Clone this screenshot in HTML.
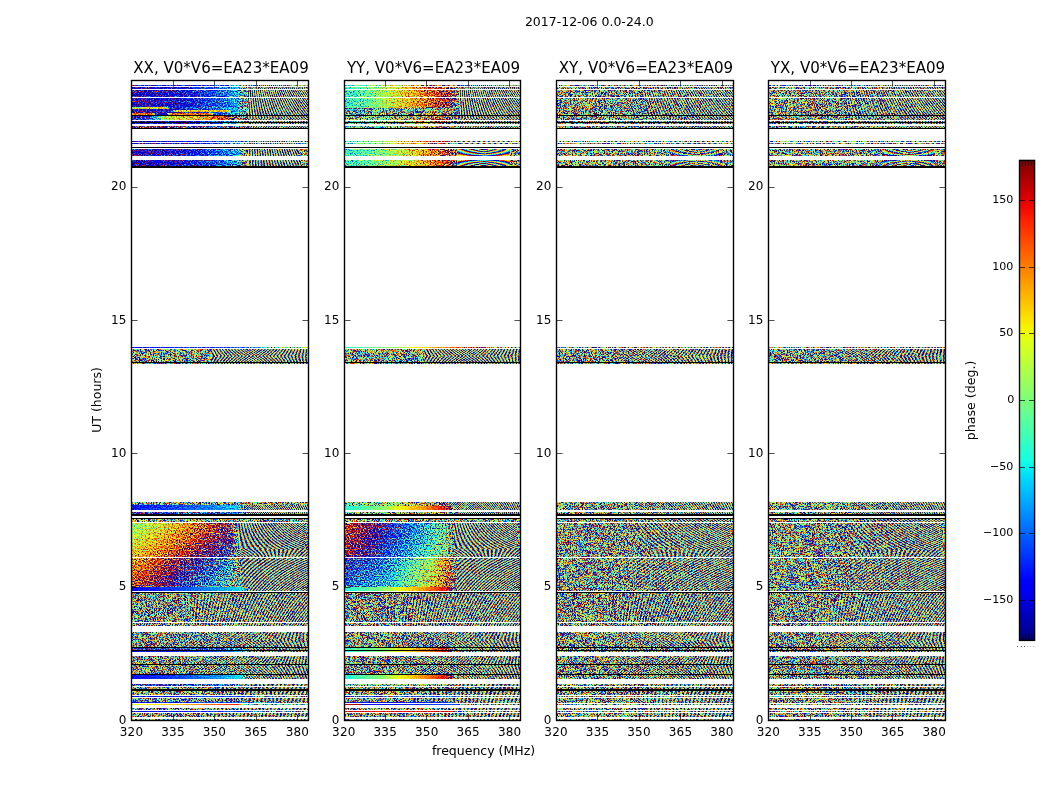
<!DOCTYPE html>
<html><head><meta charset="utf-8"><title>2017-12-06 0.0-24.0</title>
<style>html,body{margin:0;padding:0;background:#fff}svg{display:block}.s{mix-blend-mode:screen}</style></head>
<body>
<svg width="1050" height="800" viewBox="0 0 1050 800">
<defs><linearGradient id="g0" x1="0" y1="0" x2="1" y2="0"><stop offset="0" stop-color="#6dff00"/><stop offset="1" stop-color="#6dff00"/></linearGradient><linearGradient id="g1" x1="0" y1="0" x2="1" y2="0"><stop offset="0" stop-color="#2d3800"/><stop offset="0.455" stop-color="#343800"/><stop offset="0.758" stop-color="#423d00"/><stop offset="0.909" stop-color="#504700"/><stop offset="1" stop-color="#59ff00"/></linearGradient><linearGradient id="g2" x1="0" y1="0" x2="1" y2="0"><stop offset="0" stop-color="#7c3800"/><stop offset="0.303" stop-color="#853800"/><stop offset="0.333" stop-color="#333800"/><stop offset="0.909" stop-color="#504700"/><stop offset="1" stop-color="#59ff00"/></linearGradient><linearGradient id="g3" x1="0" y1="0" x2="1" y2="0"><stop offset="0" stop-color="#2d3800"/><stop offset="0.348" stop-color="#343800"/><stop offset="0.379" stop-color="#853800"/><stop offset="0.833" stop-color="#8d3800"/><stop offset="0.864" stop-color="#4a3800"/><stop offset="0.909" stop-color="#504700"/><stop offset="1" stop-color="#59ff00"/></linearGradient><linearGradient id="g4" x1="0" y1="0" x2="1" y2="0"><stop offset="0" stop-color="#933800"/><stop offset="0.182" stop-color="#9c3800"/><stop offset="0.212" stop-color="#313800"/><stop offset="0.303" stop-color="#333800"/><stop offset="0.333" stop-color="#933800"/><stop offset="0.682" stop-color="#9c3800"/><stop offset="0.712" stop-color="#393800"/><stop offset="0.909" stop-color="#504700"/><stop offset="1" stop-color="#59ff00"/></linearGradient><linearGradient id="g5" x1="0" y1="0" x2="1" y2="0"><stop offset="0" stop-color="#304c00"/><stop offset="0.154" stop-color="#3a4c00"/><stop offset="0.215" stop-color="#574c00"/><stop offset="0.308" stop-color="#7c4700"/><stop offset="0.615" stop-color="#8d4700"/><stop offset="0.769" stop-color="#a04c00"/><stop offset="0.877" stop-color="#aa4c00"/><stop offset="1" stop-color="#6dff00"/></linearGradient><linearGradient id="g6" x1="0" y1="0" x2="1" y2="0"><stop offset="0" stop-color="#247300"/><stop offset="0.606" stop-color="#2c7300"/><stop offset="0.909" stop-color="#429900"/><stop offset="1" stop-color="#5fff00"/></linearGradient><linearGradient id="g7" x1="0" y1="0" x2="1" y2="0"><stop offset="0" stop-color="#361f00"/><stop offset="0.6" stop-color="#422600"/><stop offset="0.8" stop-color="#5f8000"/><stop offset="1" stop-color="#759900"/></linearGradient><linearGradient id="g8" x1="0" y1="0" x2="1" y2="0"><stop offset="0" stop-color="#50e600"/><stop offset="1" stop-color="#5fff00"/></linearGradient><linearGradient id="g9" x1="0" y1="0" x2="1" y2="0"><stop offset="0" stop-color="#371a00"/><stop offset="0.469" stop-color="#421a00"/><stop offset="0.781" stop-color="#4c1a00"/><stop offset="0.938" stop-color="#552600"/><stop offset="1" stop-color="#5fff00"/></linearGradient><linearGradient id="g10" x1="0" y1="0" x2="1" y2="0"><stop offset="0" stop-color="#2c4c00"/><stop offset="0.909" stop-color="#425900"/><stop offset="1" stop-color="#5fff00"/></linearGradient><linearGradient id="g11" x1="0" y1="0" x2="1" y2="0"><stop offset="0" stop-color="#66cc00"/><stop offset="1" stop-color="#66ff00"/></linearGradient><linearGradient id="g12" x1="0" y1="0" x2="1" y2="0"><stop offset="0" stop-color="#704000"/><stop offset="0.25" stop-color="#7e4500"/><stop offset="0.5" stop-color="#904c00"/><stop offset="0.75" stop-color="#a35900"/><stop offset="0.933" stop-color="#b36600"/><stop offset="1" stop-color="#b9ff00"/></linearGradient><linearGradient id="g13" x1="0" y1="0" x2="1" y2="0"><stop offset="0" stop-color="#754000"/><stop offset="0.25" stop-color="#834500"/><stop offset="0.5" stop-color="#954c00"/><stop offset="0.75" stop-color="#a85900"/><stop offset="0.933" stop-color="#b86600"/><stop offset="1" stop-color="#bdff00"/></linearGradient><linearGradient id="g14" x1="0" y1="0" x2="1" y2="0"><stop offset="0" stop-color="#794000"/><stop offset="0.25" stop-color="#884500"/><stop offset="0.5" stop-color="#994c00"/><stop offset="0.75" stop-color="#ac5900"/><stop offset="0.933" stop-color="#bc6600"/><stop offset="1" stop-color="#c2ff00"/></linearGradient><linearGradient id="g15" x1="0" y1="0" x2="1" y2="0"><stop offset="0" stop-color="#7e4000"/><stop offset="0.25" stop-color="#8d4500"/><stop offset="0.5" stop-color="#9e4c00"/><stop offset="0.75" stop-color="#b15900"/><stop offset="0.933" stop-color="#c16600"/><stop offset="1" stop-color="#c7ff00"/></linearGradient><linearGradient id="g16" x1="0" y1="0" x2="1" y2="0"><stop offset="0" stop-color="#834000"/><stop offset="0.25" stop-color="#924500"/><stop offset="0.5" stop-color="#a34c00"/><stop offset="0.75" stop-color="#b65900"/><stop offset="0.933" stop-color="#c66600"/><stop offset="1" stop-color="#ccff00"/></linearGradient><linearGradient id="g17" x1="0" y1="0" x2="1" y2="0"><stop offset="0" stop-color="#884000"/><stop offset="0.25" stop-color="#974500"/><stop offset="0.5" stop-color="#a84c00"/><stop offset="0.75" stop-color="#bb5900"/><stop offset="0.933" stop-color="#cb6600"/><stop offset="1" stop-color="#d1ff00"/></linearGradient><linearGradient id="g18" x1="0" y1="0" x2="1" y2="0"><stop offset="0" stop-color="#904c00"/><stop offset="0.323" stop-color="#a75400"/><stop offset="0.484" stop-color="#b55c00"/><stop offset="0.726" stop-color="#cd6600"/><stop offset="0.903" stop-color="#e07300"/><stop offset="1" stop-color="#e4ff00"/></linearGradient><linearGradient id="g19" x1="0" y1="0" x2="1" y2="0"><stop offset="0" stop-color="#944c00"/><stop offset="0.323" stop-color="#ab5400"/><stop offset="0.484" stop-color="#ba5c00"/><stop offset="0.726" stop-color="#d16600"/><stop offset="0.903" stop-color="#e47300"/><stop offset="1" stop-color="#e8ff00"/></linearGradient><linearGradient id="g20" x1="0" y1="0" x2="1" y2="0"><stop offset="0" stop-color="#984c00"/><stop offset="0.323" stop-color="#b05400"/><stop offset="0.484" stop-color="#be5c00"/><stop offset="0.726" stop-color="#d56600"/><stop offset="0.903" stop-color="#e87300"/><stop offset="1" stop-color="#edff00"/></linearGradient><linearGradient id="g21" x1="0" y1="0" x2="1" y2="0"><stop offset="0" stop-color="#9d4c00"/><stop offset="0.323" stop-color="#b45400"/><stop offset="0.484" stop-color="#c35c00"/><stop offset="0.726" stop-color="#da6600"/><stop offset="0.903" stop-color="#ed7300"/><stop offset="1" stop-color="#f1ff00"/></linearGradient><linearGradient id="g22" x1="0" y1="0" x2="1" y2="0"><stop offset="0" stop-color="#a14c00"/><stop offset="0.323" stop-color="#b85400"/><stop offset="0.484" stop-color="#c75c00"/><stop offset="0.726" stop-color="#de6600"/><stop offset="0.903" stop-color="#f17300"/><stop offset="1" stop-color="#f6ff00"/></linearGradient><linearGradient id="g23" x1="0" y1="0" x2="1" y2="0"><stop offset="0" stop-color="#360f00"/><stop offset="0.462" stop-color="#420f00"/><stop offset="0.769" stop-color="#4d1400"/><stop offset="0.954" stop-color="#571a00"/><stop offset="1" stop-color="#5fff00"/></linearGradient><linearGradient id="g24" x1="0" y1="0" x2="1" y2="0"><stop offset="0" stop-color="#334c00"/><stop offset="0.758" stop-color="#424c00"/><stop offset="0.939" stop-color="#506600"/><stop offset="1" stop-color="#5fff00"/></linearGradient><linearGradient id="g25" x1="0" y1="0" x2="1" y2="0"><stop offset="0" stop-color="#331a00"/><stop offset="0.758" stop-color="#421a00"/><stop offset="0.939" stop-color="#501a00"/><stop offset="1" stop-color="#5fff00"/></linearGradient><linearGradient id="g26" x1="0" y1="0" x2="1" y2="0"><stop offset="0" stop-color="#365400"/><stop offset="0.909" stop-color="#446600"/><stop offset="1" stop-color="#5fff00"/></linearGradient><linearGradient id="g27" x1="0" y1="0" x2="1" y2="0"><stop offset="0" stop-color="#331a00"/><stop offset="0.6" stop-color="#421a00"/><stop offset="1" stop-color="#5fcc00"/></linearGradient><linearGradient id="g28" x1="0" y1="0" x2="1" y2="0"><stop offset="0" stop-color="#7f0500"/><stop offset="0.3" stop-color="#8d0500"/><stop offset="0.6" stop-color="#a50500"/><stop offset="0.64" stop-color="#5f8000"/><stop offset="1" stop-color="#5fcc00"/></linearGradient><linearGradient id="g29" x1="0" y1="0" x2="1" y2="0"><stop offset="0" stop-color="#5d3d00"/><stop offset="0.185" stop-color="#653d00"/><stop offset="0.338" stop-color="#763d00"/><stop offset="0.492" stop-color="#854200"/><stop offset="0.646" stop-color="#934700"/><stop offset="0.8" stop-color="#a25200"/><stop offset="0.923" stop-color="#ac6100"/><stop offset="1" stop-color="#b6ff00"/></linearGradient><linearGradient id="g30" x1="0" y1="0" x2="1" y2="0"><stop offset="0" stop-color="#508000"/><stop offset="0.308" stop-color="#5f9900"/><stop offset="0.462" stop-color="#50b200"/><stop offset="0.769" stop-color="#7ccc00"/><stop offset="0.923" stop-color="#a8cc00"/><stop offset="1" stop-color="#b6ff00"/></linearGradient><linearGradient id="g31" x1="0" y1="0" x2="1" y2="0"><stop offset="0" stop-color="#5f8000"/><stop offset="0.308" stop-color="#668000"/><stop offset="0.615" stop-color="#888000"/><stop offset="0.923" stop-color="#a88000"/><stop offset="1" stop-color="#b6ff00"/></linearGradient><linearGradient id="g32" x1="0" y1="0" x2="1" y2="0"><stop offset="0" stop-color="#5d3d00"/><stop offset="0.234" stop-color="#673d00"/><stop offset="0.469" stop-color="#794000"/><stop offset="0.703" stop-color="#8d4c00"/><stop offset="0.938" stop-color="#a85c00"/><stop offset="1" stop-color="#b2ff00"/></linearGradient><linearGradient id="g33" x1="0" y1="0" x2="1" y2="0"><stop offset="0" stop-color="#5c0d00"/><stop offset="0.3" stop-color="#750d00"/><stop offset="0.6" stop-color="#991a00"/><stop offset="0.8" stop-color="#a88000"/><stop offset="1" stop-color="#6dff00"/></linearGradient><linearGradient id="g34" x1="0" y1="0" x2="1" y2="0"><stop offset="0" stop-color="#628000"/><stop offset="0.833" stop-color="#8a9900"/><stop offset="1" stop-color="#a8ff00"/></linearGradient><linearGradient id="g35" x1="0" y1="0" x2="1" y2="0"><stop offset="0" stop-color="#5c0d00"/><stop offset="0.317" stop-color="#6d0d00"/><stop offset="0.476" stop-color="#7f0d00"/><stop offset="0.714" stop-color="#920f00"/><stop offset="0.873" stop-color="#a51400"/><stop offset="0.952" stop-color="#af4c00"/><stop offset="1" stop-color="#b6ff00"/></linearGradient><linearGradient id="g36" x1="0" y1="0" x2="1" y2="0"><stop offset="0" stop-color="#668000"/><stop offset="0.455" stop-color="#7c8000"/><stop offset="0.909" stop-color="#a09900"/><stop offset="1" stop-color="#5fff00"/></linearGradient><linearGradient id="g37" x1="0" y1="0" x2="1" y2="0"><stop offset="0" stop-color="#6de600"/><stop offset="1" stop-color="#6dff00"/></linearGradient><linearGradient id="g38" x1="0" y1="0" x2="1" y2="0"><stop offset="0" stop-color="#a35400"/><stop offset="0.242" stop-color="#b55400"/><stop offset="0.403" stop-color="#c65400"/><stop offset="0.645" stop-color="#db5400"/><stop offset="0.806" stop-color="#ec5900"/><stop offset="0.935" stop-color="#f98000"/><stop offset="1" stop-color="#ffff00"/></linearGradient><linearGradient id="g39" x1="0" y1="0" x2="1" y2="0"><stop offset="0" stop-color="#a65400"/><stop offset="0.242" stop-color="#b85400"/><stop offset="0.403" stop-color="#c95400"/><stop offset="0.645" stop-color="#dd5400"/><stop offset="0.806" stop-color="#ef5900"/><stop offset="0.935" stop-color="#fc8000"/><stop offset="1" stop-color="#ffff00"/></linearGradient><linearGradient id="g40" x1="0" y1="0" x2="1" y2="0"><stop offset="0" stop-color="#a95400"/><stop offset="0.242" stop-color="#bb5400"/><stop offset="0.403" stop-color="#cc5400"/><stop offset="0.645" stop-color="#e05400"/><stop offset="0.806" stop-color="#f25900"/><stop offset="0.935" stop-color="#ff8000"/><stop offset="1" stop-color="#ffff00"/></linearGradient><linearGradient id="g41" x1="0" y1="0" x2="1" y2="0"><stop offset="0" stop-color="#ac5400"/><stop offset="0.242" stop-color="#bd5400"/><stop offset="0.403" stop-color="#cf5400"/><stop offset="0.645" stop-color="#e35400"/><stop offset="0.806" stop-color="#f55900"/><stop offset="0.935" stop-color="#ff8000"/><stop offset="1" stop-color="#ffff00"/></linearGradient><linearGradient id="g42" x1="0" y1="0" x2="1" y2="0"><stop offset="0" stop-color="#af5400"/><stop offset="0.242" stop-color="#c05400"/><stop offset="0.403" stop-color="#d25400"/><stop offset="0.645" stop-color="#e65400"/><stop offset="0.806" stop-color="#f85900"/><stop offset="0.935" stop-color="#ff8000"/><stop offset="1" stop-color="#ffff00"/></linearGradient><linearGradient id="g43" x1="0" y1="0" x2="1" y2="0"><stop offset="0" stop-color="#345400"/><stop offset="0.391" stop-color="#495400"/><stop offset="0.547" stop-color="#5c5400"/><stop offset="0.781" stop-color="#765900"/><stop offset="0.938" stop-color="#9a6600"/><stop offset="1" stop-color="#a9ff00"/></linearGradient><linearGradient id="g44" x1="0" y1="0" x2="1" y2="0"><stop offset="0" stop-color="#375400"/><stop offset="0.391" stop-color="#4c5400"/><stop offset="0.547" stop-color="#5f5400"/><stop offset="0.781" stop-color="#795900"/><stop offset="0.938" stop-color="#9d6600"/><stop offset="1" stop-color="#acff00"/></linearGradient><linearGradient id="g45" x1="0" y1="0" x2="1" y2="0"><stop offset="0" stop-color="#3a5400"/><stop offset="0.391" stop-color="#4f5400"/><stop offset="0.547" stop-color="#625400"/><stop offset="0.781" stop-color="#7c5900"/><stop offset="0.938" stop-color="#a06600"/><stop offset="1" stop-color="#afff00"/></linearGradient><linearGradient id="g46" x1="0" y1="0" x2="1" y2="0"><stop offset="0" stop-color="#3d5400"/><stop offset="0.391" stop-color="#525400"/><stop offset="0.547" stop-color="#655400"/><stop offset="0.781" stop-color="#7f5900"/><stop offset="0.938" stop-color="#a36600"/><stop offset="1" stop-color="#b2ff00"/></linearGradient><linearGradient id="g47" x1="0" y1="0" x2="1" y2="0"><stop offset="0" stop-color="#405400"/><stop offset="0.391" stop-color="#555400"/><stop offset="0.547" stop-color="#675400"/><stop offset="0.781" stop-color="#825900"/><stop offset="0.938" stop-color="#a66600"/><stop offset="1" stop-color="#b5ff00"/></linearGradient><linearGradient id="g48" x1="0" y1="0" x2="1" y2="0"><stop offset="0" stop-color="#5f1f00"/><stop offset="0.303" stop-color="#6d1f00"/><stop offset="0.455" stop-color="#7f1f00"/><stop offset="0.682" stop-color="#922600"/><stop offset="0.833" stop-color="#a23300"/><stop offset="0.939" stop-color="#af6600"/><stop offset="1" stop-color="#b6ff00"/></linearGradient><linearGradient id="g49" x1="0" y1="0" x2="1" y2="0"><stop offset="0" stop-color="#667300"/><stop offset="0.923" stop-color="#7c9900"/><stop offset="1" stop-color="#7cff00"/></linearGradient><linearGradient id="g50" x1="0" y1="0" x2="1" y2="0"><stop offset="0" stop-color="#3a4c00"/><stop offset="0.923" stop-color="#424c00"/><stop offset="1" stop-color="#5fff00"/></linearGradient><linearGradient id="g51" x1="0" y1="0" x2="1" y2="0"><stop offset="0" stop-color="#331a00"/><stop offset="0.923" stop-color="#3a1a00"/><stop offset="1" stop-color="#5fff00"/></linearGradient><linearGradient id="g52" x1="0" y1="0" x2="1" y2="0"><stop offset="0" stop-color="#ac0800"/><stop offset="0.136" stop-color="#b30800"/><stop offset="0.167" stop-color="#c80800"/><stop offset="0.97" stop-color="#d30d00"/><stop offset="1" stop-color="#a8ff00"/></linearGradient><linearGradient id="g53" x1="0" y1="0" x2="1" y2="0"><stop offset="0" stop-color="#a81400"/><stop offset="0.923" stop-color="#aa1a00"/><stop offset="1" stop-color="#99ff00"/></linearGradient><linearGradient id="cb" x1="0" y1="0" x2="0" y2="1"><stop offset="0" stop-color="#800000"/><stop offset="0.025" stop-color="#9c0000"/><stop offset="0.05" stop-color="#b90000"/><stop offset="0.075" stop-color="#d60000"/><stop offset="0.1" stop-color="#f30900"/><stop offset="0.125" stop-color="#ff2100"/><stop offset="0.15" stop-color="#ff3900"/><stop offset="0.175" stop-color="#ff5000"/><stop offset="0.2" stop-color="#ff6800"/><stop offset="0.225" stop-color="#ff8000"/><stop offset="0.25" stop-color="#ff9700"/><stop offset="0.275" stop-color="#ffaf00"/><stop offset="0.3" stop-color="#ffc600"/><stop offset="0.325" stop-color="#ffde00"/><stop offset="0.35" stop-color="#f7f600"/><stop offset="0.375" stop-color="#e2ff15"/><stop offset="0.4" stop-color="#ceff29"/><stop offset="0.425" stop-color="#b9ff3e"/><stop offset="0.45" stop-color="#a5ff52"/><stop offset="0.475" stop-color="#90ff67"/><stop offset="0.5" stop-color="#7bff7b"/><stop offset="0.525" stop-color="#67ff90"/><stop offset="0.55" stop-color="#52ffa5"/><stop offset="0.575" stop-color="#3effb9"/><stop offset="0.6" stop-color="#29ffce"/><stop offset="0.625" stop-color="#15ffe2"/><stop offset="0.65" stop-color="#00e5f7"/><stop offset="0.675" stop-color="#00ccff"/><stop offset="0.7" stop-color="#00b3ff"/><stop offset="0.725" stop-color="#0099ff"/><stop offset="0.75" stop-color="#0080ff"/><stop offset="0.775" stop-color="#0066ff"/><stop offset="0.8" stop-color="#004cff"/><stop offset="0.825" stop-color="#0033ff"/><stop offset="0.85" stop-color="#001aff"/><stop offset="0.875" stop-color="#0000ff"/><stop offset="0.9" stop-color="#0000f3"/><stop offset="0.925" stop-color="#0000d6"/><stop offset="0.95" stop-color="#0000b9"/><stop offset="0.975" stop-color="#00009c"/><stop offset="1" stop-color="#000080"/></linearGradient><linearGradient id="h0" x1="0" y1="0" x2="1" y2="0"><stop offset="0" stop-color="#0d0000"/><stop offset="1" stop-color="#cc0000"/></linearGradient><linearGradient id="h1" x1="0" y1="0" x2="0" y2="1"><stop offset="0" stop-color="#000" stop-opacity="0.000"/><stop offset="1" stop-color="#000" stop-opacity="1.000"/></linearGradient><linearGradient id="h2" x1="0" y1="0" x2="1" y2="0"><stop offset="0" stop-color="#000024"/><stop offset="0.4" stop-color="#000024"/><stop offset="1" stop-color="#000024"/></linearGradient><linearGradient id="h3" x1="0" y1="0" x2="0" y2="1"><stop offset="0" stop-color="#000" stop-opacity="1.000"/><stop offset="1" stop-color="#000" stop-opacity="0.600"/></linearGradient><linearGradient id="h4" x1="0" y1="0" x2="1" y2="0"><stop offset="0" stop-color="#000000"/><stop offset="1" stop-color="#8c0000"/></linearGradient><linearGradient id="h5" x1="0" y1="0" x2="0" y2="1"><stop offset="0" stop-color="#000" stop-opacity="0.400"/><stop offset="1" stop-color="#000" stop-opacity="1.000"/></linearGradient><linearGradient id="h6" x1="0" y1="0" x2="1" y2="0"><stop offset="0" stop-color="#260000"/><stop offset="1" stop-color="#ff0000"/></linearGradient><linearGradient id="h7" x1="0" y1="0" x2="0" y2="1"><stop offset="0" stop-color="#000" stop-opacity="0.450"/><stop offset="1" stop-color="#000" stop-opacity="1.000"/></linearGradient><linearGradient id="h8" x1="0" y1="0" x2="0" y2="1"><stop offset="0" stop-color="#000" stop-opacity="1.000"/><stop offset="1" stop-color="#000" stop-opacity="0.500"/></linearGradient><linearGradient id="h9" x1="0" y1="0" x2="1" y2="0"><stop offset="0" stop-color="#660000"/><stop offset="1" stop-color="#ff0000"/></linearGradient><linearGradient id="h10" x1="0" y1="0" x2="0" y2="1"><stop offset="0" stop-color="#000" stop-opacity="0.500"/><stop offset="1" stop-color="#000" stop-opacity="0.000"/></linearGradient><linearGradient id="h11" x1="0" y1="0" x2="1" y2="0"><stop offset="0" stop-color="#000000"/><stop offset="1" stop-color="#ff0000"/></linearGradient><linearGradient id="h12" x1="0" y1="0" x2="1" y2="0"><stop offset="0" stop-color="#1a0000"/><stop offset="1" stop-color="#ff0000"/></linearGradient><linearGradient id="h13" x1="0" y1="0" x2="1" y2="0"><stop offset="0" stop-color="#0d0000"/><stop offset="1" stop-color="#b20000"/></linearGradient><linearGradient id="h14" x1="0" y1="0" x2="0" y2="1"><stop offset="0" stop-color="#000" stop-opacity="1.000"/><stop offset="1" stop-color="#000" stop-opacity="0.000"/></linearGradient><linearGradient id="h15" x1="0" y1="0" x2="0" y2="1"><stop offset="0" stop-color="#000" stop-opacity="0.900"/><stop offset="1" stop-color="#000" stop-opacity="0.100"/></linearGradient><linearGradient id="h16" x1="0" y1="0" x2="1" y2="0"><stop offset="0" stop-color="#0000e6"/><stop offset="0.4" stop-color="#000057"/><stop offset="1" stop-color="#00002e"/></linearGradient><linearGradient id="h17" x1="0" y1="0" x2="0" y2="1"><stop offset="0" stop-color="#000" stop-opacity="0.500"/><stop offset="1" stop-color="#000" stop-opacity="1.000"/></linearGradient><linearGradient id="h18" x1="0" y1="0" x2="0" y2="1"><stop offset="0" stop-color="#000" stop-opacity="1.000"/><stop offset="1" stop-color="#000" stop-opacity="0.300"/></linearGradient><linearGradient id="h19" x1="0" y1="0" x2="0" y2="1"><stop offset="0" stop-color="#000" stop-opacity="1.000"/><stop offset="1" stop-color="#000" stop-opacity="0.200"/></linearGradient><linearGradient id="h20" x1="0" y1="0" x2="0" y2="1"><stop offset="0" stop-color="#000" stop-opacity="0.750"/><stop offset="1" stop-color="#000" stop-opacity="0.400"/></linearGradient><linearGradient id="h21" x1="0" y1="0" x2="1" y2="0"><stop offset="0" stop-color="#330000"/><stop offset="1" stop-color="#990000"/></linearGradient><linearGradient id="h22" x1="0" y1="0" x2="0" y2="1"><stop offset="0" stop-color="#000" stop-opacity="0.150"/><stop offset="1" stop-color="#000" stop-opacity="1.000"/></linearGradient><linearGradient id="h23" x1="0" y1="0" x2="1" y2="0"><stop offset="0" stop-color="#000012"/><stop offset="0.4" stop-color="#000012"/><stop offset="1" stop-color="#000012"/></linearGradient><linearGradient id="h24" x1="0" y1="0" x2="1" y2="0"><stop offset="0" stop-color="#990000"/><stop offset="1" stop-color="#330000"/></linearGradient><linearGradient id="h25" x1="0" y1="0" x2="0" y2="1"><stop offset="0" stop-color="#000" stop-opacity="1.000"/><stop offset="1" stop-color="#000" stop-opacity="0.550"/></linearGradient><linearGradient id="h26" x1="0" y1="0" x2="1" y2="0"><stop offset="0" stop-color="#0000e6"/><stop offset="0.4" stop-color="#000052"/><stop offset="1" stop-color="#000029"/></linearGradient><linearGradient id="h27" x1="0" y1="0" x2="1" y2="0"><stop offset="0" stop-color="#000041"/><stop offset="0.4" stop-color="#000041"/><stop offset="1" stop-color="#000041"/></linearGradient><linearGradient id="h28" x1="0" y1="0" x2="1" y2="0"><stop offset="0" stop-color="#0000e6"/><stop offset="0.4" stop-color="#00005c"/><stop offset="1" stop-color="#000035"/></linearGradient><linearGradient id="c0" gradientUnits="userSpaceOnUse" x1="238" y1="85" x2="240.87" y2="85.40" spreadMethod="repeat"><stop offset="0" stop-color="#000"/><stop offset="1" stop-color="#0f0"/></linearGradient><linearGradient id="c1" gradientUnits="userSpaceOnUse" x1="238" y1="119" x2="240.87" y2="119.40" spreadMethod="repeat"><stop offset="0" stop-color="#000"/><stop offset="1" stop-color="#0f0"/></linearGradient><linearGradient id="c2" gradientUnits="userSpaceOnUse" x1="241" y1="141" x2="243.89" y2="141.25" spreadMethod="repeat"><stop offset="0" stop-color="#000"/><stop offset="1" stop-color="#0f0"/></linearGradient><linearGradient id="c3" gradientUnits="userSpaceOnUse" x1="211" y1="347" x2="214.60" y2="347.00" spreadMethod="repeat"><stop offset="0" stop-color="#000"/><stop offset="1" stop-color="#0f0"/></linearGradient><linearGradient id="c4" gradientUnits="userSpaceOnUse" x1="211" y1="356" x2="214.60" y2="356.00" spreadMethod="repeat"><stop offset="0" stop-color="#000"/><stop offset="1" stop-color="#0f0"/></linearGradient><linearGradient id="c5" gradientUnits="userSpaceOnUse" x1="238" y1="502" x2="240.44" y2="502.89" spreadMethod="repeat"><stop offset="0" stop-color="#000"/><stop offset="1" stop-color="#0f0"/></linearGradient><linearGradient id="c6" gradientUnits="userSpaceOnUse" x1="234" y1="519" x2="239.50" y2="519.00" spreadMethod="repeat"><stop offset="0" stop-color="#000"/><stop offset="1" stop-color="#0f0"/></linearGradient><linearGradient id="c7" gradientUnits="userSpaceOnUse" x1="234" y1="549" x2="235.20" y2="551.08" spreadMethod="repeat"><stop offset="0" stop-color="#000"/><stop offset="1" stop-color="#0f0"/></linearGradient><linearGradient id="c8" gradientUnits="userSpaceOnUse" x1="229" y1="558" x2="232.52" y2="560.47" spreadMethod="repeat"><stop offset="0" stop-color="#000"/><stop offset="1" stop-color="#0f0"/></linearGradient><linearGradient id="c9" gradientUnits="userSpaceOnUse" x1="131" y1="593" x2="134.01" y2="591.91" spreadMethod="repeat"><stop offset="0" stop-color="#000"/><stop offset="1" stop-color="#0f0"/></linearGradient><linearGradient id="c10" gradientUnits="userSpaceOnUse" x1="131" y1="632" x2="134.80" y2="632.00" spreadMethod="repeat"><stop offset="0" stop-color="#000"/><stop offset="1" stop-color="#0f0"/></linearGradient><linearGradient id="c11" gradientUnits="userSpaceOnUse" x1="131" y1="640" x2="134.80" y2="640.00" spreadMethod="repeat"><stop offset="0" stop-color="#000"/><stop offset="1" stop-color="#0f0"/></linearGradient><linearGradient id="c12" gradientUnits="userSpaceOnUse" x1="131" y1="656" x2="134.40" y2="656.00" spreadMethod="repeat"><stop offset="0" stop-color="#000"/><stop offset="1" stop-color="#0f0"/></linearGradient><linearGradient id="c13" gradientUnits="userSpaceOnUse" x1="131" y1="665" x2="134.40" y2="665.00" spreadMethod="repeat"><stop offset="0" stop-color="#000"/><stop offset="1" stop-color="#0f0"/></linearGradient><linearGradient id="c14" gradientUnits="userSpaceOnUse" x1="167" y1="684" x2="171.35" y2="682.84" spreadMethod="repeat"><stop offset="0" stop-color="#000"/><stop offset="1" stop-color="#0f0"/></linearGradient><linearGradient id="c15" gradientUnits="userSpaceOnUse" x1="450" y1="85" x2="452.87" y2="85.40" spreadMethod="repeat"><stop offset="0" stop-color="#000"/><stop offset="1" stop-color="#0f0"/></linearGradient><linearGradient id="c16" gradientUnits="userSpaceOnUse" x1="450" y1="119" x2="452.87" y2="119.40" spreadMethod="repeat"><stop offset="0" stop-color="#000"/><stop offset="1" stop-color="#0f0"/></linearGradient><linearGradient id="c17" gradientUnits="userSpaceOnUse" x1="424" y1="347" x2="427.60" y2="347.00" spreadMethod="repeat"><stop offset="0" stop-color="#000"/><stop offset="1" stop-color="#0f0"/></linearGradient><linearGradient id="c18" gradientUnits="userSpaceOnUse" x1="424" y1="356" x2="427.60" y2="356.00" spreadMethod="repeat"><stop offset="0" stop-color="#000"/><stop offset="1" stop-color="#0f0"/></linearGradient><linearGradient id="c19" gradientUnits="userSpaceOnUse" x1="450" y1="502" x2="452.44" y2="502.89" spreadMethod="repeat"><stop offset="0" stop-color="#000"/><stop offset="1" stop-color="#0f0"/></linearGradient><linearGradient id="c20" gradientUnits="userSpaceOnUse" x1="447" y1="519" x2="452.50" y2="519.00" spreadMethod="repeat"><stop offset="0" stop-color="#000"/><stop offset="1" stop-color="#0f0"/></linearGradient><linearGradient id="c21" gradientUnits="userSpaceOnUse" x1="447" y1="549" x2="448.20" y2="551.08" spreadMethod="repeat"><stop offset="0" stop-color="#000"/><stop offset="1" stop-color="#0f0"/></linearGradient><linearGradient id="c22" gradientUnits="userSpaceOnUse" x1="441" y1="558" x2="444.52" y2="560.47" spreadMethod="repeat"><stop offset="0" stop-color="#000"/><stop offset="1" stop-color="#0f0"/></linearGradient><linearGradient id="c23" gradientUnits="userSpaceOnUse" x1="344" y1="593" x2="347.01" y2="591.91" spreadMethod="repeat"><stop offset="0" stop-color="#000"/><stop offset="1" stop-color="#0f0"/></linearGradient><linearGradient id="c24" gradientUnits="userSpaceOnUse" x1="344" y1="632" x2="347.80" y2="632.00" spreadMethod="repeat"><stop offset="0" stop-color="#000"/><stop offset="1" stop-color="#0f0"/></linearGradient><linearGradient id="c25" gradientUnits="userSpaceOnUse" x1="344" y1="640" x2="347.80" y2="640.00" spreadMethod="repeat"><stop offset="0" stop-color="#000"/><stop offset="1" stop-color="#0f0"/></linearGradient><linearGradient id="c26" gradientUnits="userSpaceOnUse" x1="344" y1="656" x2="347.40" y2="656.00" spreadMethod="repeat"><stop offset="0" stop-color="#000"/><stop offset="1" stop-color="#0f0"/></linearGradient><linearGradient id="c27" gradientUnits="userSpaceOnUse" x1="344" y1="665" x2="347.40" y2="665.00" spreadMethod="repeat"><stop offset="0" stop-color="#000"/><stop offset="1" stop-color="#0f0"/></linearGradient><linearGradient id="c28" gradientUnits="userSpaceOnUse" x1="379" y1="684" x2="383.35" y2="682.84" spreadMethod="repeat"><stop offset="0" stop-color="#000"/><stop offset="1" stop-color="#0f0"/></linearGradient><linearGradient id="c29" gradientUnits="userSpaceOnUse" x1="592" y1="85" x2="594.87" y2="85.40" spreadMethod="repeat"><stop offset="0" stop-color="#000"/><stop offset="1" stop-color="#0f0"/></linearGradient><linearGradient id="c30" gradientUnits="userSpaceOnUse" x1="592" y1="119" x2="594.87" y2="119.40" spreadMethod="repeat"><stop offset="0" stop-color="#000"/><stop offset="1" stop-color="#0f0"/></linearGradient><linearGradient id="c31" gradientUnits="userSpaceOnUse" x1="565" y1="347" x2="568.60" y2="347.00" spreadMethod="repeat"><stop offset="0" stop-color="#000"/><stop offset="1" stop-color="#0f0"/></linearGradient><linearGradient id="c32" gradientUnits="userSpaceOnUse" x1="565" y1="356" x2="568.60" y2="356.00" spreadMethod="repeat"><stop offset="0" stop-color="#000"/><stop offset="1" stop-color="#0f0"/></linearGradient><linearGradient id="c33" gradientUnits="userSpaceOnUse" x1="592" y1="502" x2="594.44" y2="502.89" spreadMethod="repeat"><stop offset="0" stop-color="#000"/><stop offset="1" stop-color="#0f0"/></linearGradient><linearGradient id="c34" gradientUnits="userSpaceOnUse" x1="588" y1="519" x2="593.50" y2="519.00" spreadMethod="repeat"><stop offset="0" stop-color="#000"/><stop offset="1" stop-color="#0f0"/></linearGradient><linearGradient id="c35" gradientUnits="userSpaceOnUse" x1="588" y1="549" x2="589.20" y2="551.08" spreadMethod="repeat"><stop offset="0" stop-color="#000"/><stop offset="1" stop-color="#0f0"/></linearGradient><linearGradient id="c36" gradientUnits="userSpaceOnUse" x1="583" y1="558" x2="586.52" y2="560.47" spreadMethod="repeat"><stop offset="0" stop-color="#000"/><stop offset="1" stop-color="#0f0"/></linearGradient><linearGradient id="c37" gradientUnits="userSpaceOnUse" x1="556" y1="593" x2="559.01" y2="591.91" spreadMethod="repeat"><stop offset="0" stop-color="#000"/><stop offset="1" stop-color="#0f0"/></linearGradient><linearGradient id="c38" gradientUnits="userSpaceOnUse" x1="556" y1="632" x2="559.80" y2="632.00" spreadMethod="repeat"><stop offset="0" stop-color="#000"/><stop offset="1" stop-color="#0f0"/></linearGradient><linearGradient id="c39" gradientUnits="userSpaceOnUse" x1="556" y1="640" x2="559.80" y2="640.00" spreadMethod="repeat"><stop offset="0" stop-color="#000"/><stop offset="1" stop-color="#0f0"/></linearGradient><linearGradient id="c40" gradientUnits="userSpaceOnUse" x1="556" y1="656" x2="559.40" y2="656.00" spreadMethod="repeat"><stop offset="0" stop-color="#000"/><stop offset="1" stop-color="#0f0"/></linearGradient><linearGradient id="c41" gradientUnits="userSpaceOnUse" x1="556" y1="665" x2="559.40" y2="665.00" spreadMethod="repeat"><stop offset="0" stop-color="#000"/><stop offset="1" stop-color="#0f0"/></linearGradient><linearGradient id="c42" gradientUnits="userSpaceOnUse" x1="592" y1="684" x2="596.35" y2="682.84" spreadMethod="repeat"><stop offset="0" stop-color="#000"/><stop offset="1" stop-color="#0f0"/></linearGradient><linearGradient id="c43" gradientUnits="userSpaceOnUse" x1="804" y1="85" x2="806.87" y2="85.40" spreadMethod="repeat"><stop offset="0" stop-color="#000"/><stop offset="1" stop-color="#0f0"/></linearGradient><linearGradient id="c44" gradientUnits="userSpaceOnUse" x1="804" y1="119" x2="806.87" y2="119.40" spreadMethod="repeat"><stop offset="0" stop-color="#000"/><stop offset="1" stop-color="#0f0"/></linearGradient><linearGradient id="c45" gradientUnits="userSpaceOnUse" x1="777" y1="347" x2="780.60" y2="347.00" spreadMethod="repeat"><stop offset="0" stop-color="#000"/><stop offset="1" stop-color="#0f0"/></linearGradient><linearGradient id="c46" gradientUnits="userSpaceOnUse" x1="777" y1="356" x2="780.60" y2="356.00" spreadMethod="repeat"><stop offset="0" stop-color="#000"/><stop offset="1" stop-color="#0f0"/></linearGradient><linearGradient id="c47" gradientUnits="userSpaceOnUse" x1="804" y1="502" x2="806.44" y2="502.89" spreadMethod="repeat"><stop offset="0" stop-color="#000"/><stop offset="1" stop-color="#0f0"/></linearGradient><linearGradient id="c48" gradientUnits="userSpaceOnUse" x1="800" y1="519" x2="805.50" y2="519.00" spreadMethod="repeat"><stop offset="0" stop-color="#000"/><stop offset="1" stop-color="#0f0"/></linearGradient><linearGradient id="c49" gradientUnits="userSpaceOnUse" x1="800" y1="549" x2="801.20" y2="551.08" spreadMethod="repeat"><stop offset="0" stop-color="#000"/><stop offset="1" stop-color="#0f0"/></linearGradient><linearGradient id="c50" gradientUnits="userSpaceOnUse" x1="795" y1="558" x2="798.52" y2="560.47" spreadMethod="repeat"><stop offset="0" stop-color="#000"/><stop offset="1" stop-color="#0f0"/></linearGradient><linearGradient id="c51" gradientUnits="userSpaceOnUse" x1="768" y1="593" x2="771.01" y2="591.91" spreadMethod="repeat"><stop offset="0" stop-color="#000"/><stop offset="1" stop-color="#0f0"/></linearGradient><linearGradient id="c52" gradientUnits="userSpaceOnUse" x1="768" y1="632" x2="771.80" y2="632.00" spreadMethod="repeat"><stop offset="0" stop-color="#000"/><stop offset="1" stop-color="#0f0"/></linearGradient><linearGradient id="c53" gradientUnits="userSpaceOnUse" x1="768" y1="640" x2="771.80" y2="640.00" spreadMethod="repeat"><stop offset="0" stop-color="#000"/><stop offset="1" stop-color="#0f0"/></linearGradient><linearGradient id="c54" gradientUnits="userSpaceOnUse" x1="768" y1="656" x2="771.40" y2="656.00" spreadMethod="repeat"><stop offset="0" stop-color="#000"/><stop offset="1" stop-color="#0f0"/></linearGradient><linearGradient id="c55" gradientUnits="userSpaceOnUse" x1="768" y1="665" x2="771.40" y2="665.00" spreadMethod="repeat"><stop offset="0" stop-color="#000"/><stop offset="1" stop-color="#0f0"/></linearGradient><linearGradient id="c56" gradientUnits="userSpaceOnUse" x1="804" y1="684" x2="808.35" y2="682.84" spreadMethod="repeat"><stop offset="0" stop-color="#000"/><stop offset="1" stop-color="#0f0"/></linearGradient><filter id="ph" filterUnits="userSpaceOnUse" x="120" y="70" width="840" height="660" color-interpolation-filters="sRGB">
<feTurbulence type="fractalNoise" baseFrequency="0.73 0.81" numOctaves="1" seed="7" result="t"/>
<feColorMatrix in="t" type="matrix" values="0 0 0 0 0  1.45 0 0 0 -0.22499999999999998  0 0 0 0 0  0 0 0 0 1" result="n"/>
<feComposite in="SourceGraphic" in2="n" operator="arithmetic" k1="1" k2="0" k3="0" k4="0" result="m"/>
<feColorMatrix in="m" type="matrix" values="0 0.63158 0 0 0  0 0.63158 0 0 0  0 0.63158 0 0 0  0 0 0 1 0" result="m2"/>
<feColorMatrix in="SourceGraphic" type="matrix" values="0.36842 -0.31579 0 0 0.31579  0.36842 -0.31579 0 0 0.31579  0.36842 -0.31579 0 0 0.31579  0 0 0 1 0" result="s2"/>
<feComposite in="s2" in2="m2" operator="arithmetic" k1="0" k2="1" k3="1" k4="0" result="q"/>
<feComponentTransfer in="q"><feFuncR type="table" tableValues="0.000 0.000 0.000 0.000 0.000 0.000 0.000 0.000 0.000 0.000 0.000 0.032 0.065 0.097 0.129 0.161 0.194 0.226 0.258 0.290 0.323 0.355 0.387 0.419 0.452 0.484 0.516 0.548 0.581 0.613 0.645 0.677 0.710 0.742 0.774 0.806 0.839 0.871 0.903 0.935 0.968 1.000 1.000 1.000 1.000 1.000 1.000 1.000 1.000 1.000 1.000 1.000 1.000 1.000 1.000 1.000 1.000 1.000 1.000 1.000 1.000 1.000 1.000 1.000 1.000 0.955 0.909 0.864 0.818 0.773 0.727 0.682 0.636 0.591 0.545 0.000 0.000 0.000 0.000 0.000 0.000 0.000 0.000 0.000 0.000 0.000 0.000 0.000 0.000 0.000 0.000 0.000 0.000 0.000 0.000 0.000 0.000 0.000 0.000 0.000 0.000 0.000 0.000 0.000 0.000 0.000 0.000 0.000 0.000 0.000 0.000 0.032 0.065 0.097 0.129 0.161 0.194 0.226 0.258 0.290 0.323 0.355 0.387 0.419 0.452 0.484 0.516 0.548 0.581 0.613 0.645 0.677 0.710 0.742 0.774 0.806 0.839 0.871 0.903 0.935 0.968 1.000 1.000 1.000 1.000 1.000 1.000 1.000 1.000 1.000 1.000 1.000 1.000 1.000 1.000 1.000 1.000 1.000 1.000 1.000 1.000 1.000 1.000 1.000 1.000 0.955 0.909 0.864 0.818 0.773 0.727 0.682 0.636 0.591 0.545 0.000 0.000 0.000 0.000 0.000 0.000 0.000 0.000 0.000 0.000 0.000 0.000 0.000 0.000 0.000 0.000 0.000 0.000 0.000 0.000 0.000 0.000 0.000 0.000 0.000 0.000 0.000 0.000 0.000 0.000 0.000 0.000 0.000 0.000 0.000 0.000 0.032 0.065 0.097 0.129 0.161 0.194 0.226 0.258 0.290 0.323 0.355 0.387 0.419 0.452 0.484 0.516 0.548 0.581 0.613 0.645 0.677 0.710 0.742 0.774 0.806 0.839 0.871 0.903 0.935 0.968 1.000 1.000 1.000 1.000 1.000 1.000 1.000 1.000 1.000 1.000 1.000 1.000 1.000 1.000 1.000 1.000 1.000 1.000 1.000 1.000 1.000 1.000 1.000 1.000 0.955 0.909 0.864 0.818 0.773 0.727 0.682 0.636 0.591 0.545 0.000 0.000 0.000 0.000 0.000 0.000 0.000 0.000 0.000 0.000 0.000 0.000 0.000 0.000 0.000 0.000 0.000 0.000 0.000 0.000 0.000 0.000 0.000 0.000 0.000 0.000 0.000 0.000 0.000 0.000 0.000 0.000 0.000 0.000 0.000 0.000 0.032 0.065 0.097 0.129 0.161 0.194 0.226 0.258 0.290 0.323 0.355 0.387 0.419 0.452 0.484 0.516 0.548 0.581 0.613 0.645 0.677 0.710 0.742 0.774 0.806 0.839 0.871 0.903 0.935 0.968 1.000 1.000 1.000 1.000 1.000 1.000 1.000 1.000 1.000 1.000 1.000 1.000 1.000 1.000 1.000 1.000 1.000 1.000 1.000 1.000 1.000 1.000 1.000 1.000 0.955 0.909 0.864 0.818 0.773 0.727 0.682 0.636 0.591 0.545 0.000 0.000 0.000 0.000 0.000 0.000 0.000 0.000 0.000 0.000 0.000 0.000 0.000 0.000 0.000 0.000 0.000 0.000 0.000 0.000 0.000 0.000 0.000 0.000 0.000 0.000 0.000 0.000 0.000 0.000 0.000 0.000 0.000 0.000 0.000 0.000 0.032 0.065 0.097 0.129 0.161 0.194 0.226 0.258 0.290 0.323 0.355 0.387 0.419 0.452 0.484 0.516 0.548 0.581 0.613 0.645 0.677 0.710 0.742 0.774 0.806 0.839 0.871 0.903 0.935 0.968 1.000 1.000 1.000 1.000 1.000 1.000 1.000 1.000 1.000 1.000 1.000 1.000 1.000 1.000 1.000 1.000 1.000 1.000 1.000 1.000 1.000 1.000 1.000 1.000 0.955 0.909 0.864 0.818 0.773 0.727 0.682 0.636 0.591 0.545 0.000"/><feFuncG type="table" tableValues="0.500 0.540 0.580 0.620 0.660 0.700 0.740 0.780 0.820 0.860 0.900 0.940 0.980 1.000 1.000 1.000 1.000 1.000 1.000 1.000 1.000 1.000 1.000 1.000 1.000 1.000 1.000 1.000 1.000 1.000 1.000 1.000 1.000 1.000 1.000 1.000 1.000 1.000 1.000 1.000 0.963 0.926 0.889 0.852 0.815 0.778 0.741 0.704 0.667 0.630 0.593 0.556 0.519 0.481 0.444 0.407 0.370 0.333 0.296 0.259 0.222 0.185 0.148 0.111 0.074 0.037 0.000 0.000 0.000 0.000 0.000 0.000 0.000 0.000 0.000 0.000 0.000 0.000 0.000 0.000 0.000 0.000 0.000 0.000 0.000 0.000 0.000 0.000 0.020 0.060 0.100 0.140 0.180 0.220 0.260 0.300 0.340 0.380 0.420 0.460 0.500 0.540 0.580 0.620 0.660 0.700 0.740 0.780 0.820 0.860 0.900 0.940 0.980 1.000 1.000 1.000 1.000 1.000 1.000 1.000 1.000 1.000 1.000 1.000 1.000 1.000 1.000 1.000 1.000 1.000 1.000 1.000 1.000 1.000 1.000 1.000 1.000 1.000 1.000 1.000 0.963 0.926 0.889 0.852 0.815 0.778 0.741 0.704 0.667 0.630 0.593 0.556 0.519 0.481 0.444 0.407 0.370 0.333 0.296 0.259 0.222 0.185 0.148 0.111 0.074 0.037 0.000 0.000 0.000 0.000 0.000 0.000 0.000 0.000 0.000 0.000 0.000 0.000 0.000 0.000 0.000 0.000 0.000 0.000 0.000 0.000 0.000 0.000 0.020 0.060 0.100 0.140 0.180 0.220 0.260 0.300 0.340 0.380 0.420 0.460 0.500 0.540 0.580 0.620 0.660 0.700 0.740 0.780 0.820 0.860 0.900 0.940 0.980 1.000 1.000 1.000 1.000 1.000 1.000 1.000 1.000 1.000 1.000 1.000 1.000 1.000 1.000 1.000 1.000 1.000 1.000 1.000 1.000 1.000 1.000 1.000 1.000 1.000 1.000 1.000 0.963 0.926 0.889 0.852 0.815 0.778 0.741 0.704 0.667 0.630 0.593 0.556 0.519 0.481 0.444 0.407 0.370 0.333 0.296 0.259 0.222 0.185 0.148 0.111 0.074 0.037 0.000 0.000 0.000 0.000 0.000 0.000 0.000 0.000 0.000 0.000 0.000 0.000 0.000 0.000 0.000 0.000 0.000 0.000 0.000 0.000 0.000 0.000 0.020 0.060 0.100 0.140 0.180 0.220 0.260 0.300 0.340 0.380 0.420 0.460 0.500 0.540 0.580 0.620 0.660 0.700 0.740 0.780 0.820 0.860 0.900 0.940 0.980 1.000 1.000 1.000 1.000 1.000 1.000 1.000 1.000 1.000 1.000 1.000 1.000 1.000 1.000 1.000 1.000 1.000 1.000 1.000 1.000 1.000 1.000 1.000 1.000 1.000 1.000 1.000 0.963 0.926 0.889 0.852 0.815 0.778 0.741 0.704 0.667 0.630 0.593 0.556 0.519 0.481 0.444 0.407 0.370 0.333 0.296 0.259 0.222 0.185 0.148 0.111 0.074 0.037 0.000 0.000 0.000 0.000 0.000 0.000 0.000 0.000 0.000 0.000 0.000 0.000 0.000 0.000 0.000 0.000 0.000 0.000 0.000 0.000 0.000 0.000 0.020 0.060 0.100 0.140 0.180 0.220 0.260 0.300 0.340 0.380 0.420 0.460 0.500 0.540 0.580 0.620 0.660 0.700 0.740 0.780 0.820 0.860 0.900 0.940 0.980 1.000 1.000 1.000 1.000 1.000 1.000 1.000 1.000 1.000 1.000 1.000 1.000 1.000 1.000 1.000 1.000 1.000 1.000 1.000 1.000 1.000 1.000 1.000 1.000 1.000 1.000 1.000 0.963 0.926 0.889 0.852 0.815 0.778 0.741 0.704 0.667 0.630 0.593 0.556 0.519 0.481 0.444 0.407 0.370 0.333 0.296 0.259 0.222 0.185 0.148 0.111 0.074 0.037 0.000 0.000 0.000 0.000 0.000 0.000 0.000 0.000 0.000 0.000"/><feFuncB type="table" tableValues="1.000 1.000 1.000 1.000 1.000 1.000 1.000 1.000 1.000 1.000 0.968 0.935 0.903 0.871 0.839 0.806 0.774 0.742 0.710 0.677 0.645 0.613 0.581 0.548 0.516 0.484 0.452 0.419 0.387 0.355 0.323 0.290 0.258 0.226 0.194 0.161 0.129 0.097 0.065 0.032 0.000 0.000 0.000 0.000 0.000 0.000 0.000 0.000 0.000 0.000 0.000 0.000 0.000 0.000 0.000 0.000 0.000 0.000 0.000 0.000 0.000 0.000 0.000 0.000 0.000 0.000 0.000 0.000 0.000 0.000 0.000 0.000 0.000 0.000 0.000 0.500 0.545 0.591 0.636 0.682 0.727 0.773 0.818 0.864 0.909 0.955 1.000 1.000 1.000 1.000 1.000 1.000 1.000 1.000 1.000 1.000 1.000 1.000 1.000 1.000 1.000 1.000 1.000 1.000 1.000 1.000 1.000 1.000 1.000 1.000 0.968 0.935 0.903 0.871 0.839 0.806 0.774 0.742 0.710 0.677 0.645 0.613 0.581 0.548 0.516 0.484 0.452 0.419 0.387 0.355 0.323 0.290 0.258 0.226 0.194 0.161 0.129 0.097 0.065 0.032 0.000 0.000 0.000 0.000 0.000 0.000 0.000 0.000 0.000 0.000 0.000 0.000 0.000 0.000 0.000 0.000 0.000 0.000 0.000 0.000 0.000 0.000 0.000 0.000 0.000 0.000 0.000 0.000 0.000 0.000 0.000 0.000 0.000 0.000 0.000 0.500 0.545 0.591 0.636 0.682 0.727 0.773 0.818 0.864 0.909 0.955 1.000 1.000 1.000 1.000 1.000 1.000 1.000 1.000 1.000 1.000 1.000 1.000 1.000 1.000 1.000 1.000 1.000 1.000 1.000 1.000 1.000 1.000 1.000 1.000 0.968 0.935 0.903 0.871 0.839 0.806 0.774 0.742 0.710 0.677 0.645 0.613 0.581 0.548 0.516 0.484 0.452 0.419 0.387 0.355 0.323 0.290 0.258 0.226 0.194 0.161 0.129 0.097 0.065 0.032 0.000 0.000 0.000 0.000 0.000 0.000 0.000 0.000 0.000 0.000 0.000 0.000 0.000 0.000 0.000 0.000 0.000 0.000 0.000 0.000 0.000 0.000 0.000 0.000 0.000 0.000 0.000 0.000 0.000 0.000 0.000 0.000 0.000 0.000 0.000 0.500 0.545 0.591 0.636 0.682 0.727 0.773 0.818 0.864 0.909 0.955 1.000 1.000 1.000 1.000 1.000 1.000 1.000 1.000 1.000 1.000 1.000 1.000 1.000 1.000 1.000 1.000 1.000 1.000 1.000 1.000 1.000 1.000 1.000 1.000 0.968 0.935 0.903 0.871 0.839 0.806 0.774 0.742 0.710 0.677 0.645 0.613 0.581 0.548 0.516 0.484 0.452 0.419 0.387 0.355 0.323 0.290 0.258 0.226 0.194 0.161 0.129 0.097 0.065 0.032 0.000 0.000 0.000 0.000 0.000 0.000 0.000 0.000 0.000 0.000 0.000 0.000 0.000 0.000 0.000 0.000 0.000 0.000 0.000 0.000 0.000 0.000 0.000 0.000 0.000 0.000 0.000 0.000 0.000 0.000 0.000 0.000 0.000 0.000 0.000 0.500 0.545 0.591 0.636 0.682 0.727 0.773 0.818 0.864 0.909 0.955 1.000 1.000 1.000 1.000 1.000 1.000 1.000 1.000 1.000 1.000 1.000 1.000 1.000 1.000 1.000 1.000 1.000 1.000 1.000 1.000 1.000 1.000 1.000 1.000 0.968 0.935 0.903 0.871 0.839 0.806 0.774 0.742 0.710 0.677 0.645 0.613 0.581 0.548 0.516 0.484 0.452 0.419 0.387 0.355 0.323 0.290 0.258 0.226 0.194 0.161 0.129 0.097 0.065 0.032 0.000 0.000 0.000 0.000 0.000 0.000 0.000 0.000 0.000 0.000 0.000 0.000 0.000 0.000 0.000 0.000 0.000 0.000 0.000 0.000 0.000 0.000 0.000 0.000 0.000 0.000 0.000 0.000 0.000 0.000 0.000 0.000 0.000 0.000 0.000 0.500"/></feComponentTransfer>
</filter><filter id="fr" filterUnits="userSpaceOnUse" x="120" y="70" width="840" height="660" color-interpolation-filters="sRGB">
<feTurbulence type="fractalNoise" baseFrequency="0.77 0.71" numOctaves="1" seed="23" result="t"/>
<feColorMatrix in="t" type="matrix" values="0 0 0 0 1  0 0 0 0 1  1.45 0 0 0 -0.22499999999999998  0 0 0 0 1" result="n"/>
<feComposite in="SourceGraphic" in2="n" operator="arithmetic" k1="1" k2="0" k3="0" k4="0" result="m"/>
<feColorMatrix in="m" type="matrix" values="0.80000 0.05000 0.15000 0 0  0.80000 0.05000 0.15000 0 0  0.80000 0.05000 0.15000 0 0  0 0 0 1 0" result="q"/>
<feComponentTransfer in="q"><feFuncR type="table" tableValues="0.00 0.00 0.00 0.00 0.00 0.00 0.00 0.00 0.00 0.08 0.22 0.35 0.48 0.62 0.75 0.89 1.00 1.00 1.00 1.00 1.00 1.00 0.88 0.69 0.00 0.00 0.00 0.00 0.00 0.00 0.00 0.00 0.00 0.08 0.22 0.35 0.48 0.62 0.75 0.89 1.00 1.00 1.00 1.00 1.00 1.00 0.88 0.69 0.00 0.00 0.00 0.00 0.00 0.00 0.00 0.00 0.00 0.08 0.22 0.35 0.48 0.62 0.75 0.89 1.00 1.00 1.00 1.00 1.00 1.00 0.88 0.69 0.00 0.00 0.00 0.00 0.00 0.00 0.00 0.00 0.00 0.08 0.22 0.35 0.48 0.62 0.75 0.89 1.00 1.00 1.00 1.00 1.00 1.00 0.88 0.69 0.00 0.00 0.00 0.00 0.00 0.00 0.00 0.00 0.00 0.08 0.22 0.35 0.48 0.62 0.75 0.89 1.00 1.00 1.00 1.00 1.00 1.00 0.88 0.69 0.00 0.00 0.00 0.00 0.00 0.00 0.00 0.00 0.00 0.08 0.22 0.35 0.48 0.62 0.75 0.89 1.00 1.00 1.00 1.00 1.00 1.00 0.88 0.69 0.00 0.00 0.00 0.00 0.00 0.00 0.00 0.00 0.00 0.08 0.22 0.35 0.48 0.62 0.75 0.89 1.00 1.00 1.00 1.00 1.00 1.00 0.88 0.69 0.00 0.00 0.00 0.00 0.00 0.00 0.00 0.00 0.00 0.08 0.22 0.35 0.48 0.62 0.75 0.89 1.00 1.00 1.00 1.00 1.00 1.00 0.88 0.69 0.00 0.00 0.00 0.00 0.00 0.00 0.00 0.00 0.00 0.08 0.22 0.35 0.48 0.62 0.75 0.89 1.00 1.00 1.00 1.00 1.00 1.00 0.88 0.69 0.00 0.00 0.00 0.00 0.00 0.00 0.00 0.00 0.00 0.08 0.22 0.35 0.48 0.62 0.75 0.89 1.00 1.00 1.00 1.00 1.00 1.00 0.88 0.69 0.00 0.00 0.00 0.00 0.00 0.00 0.00 0.00 0.00 0.08 0.22 0.35 0.48 0.62 0.75 0.89 1.00 1.00 1.00 1.00 1.00 1.00 0.88 0.69 0.00 0.00 0.00 0.00 0.00 0.00 0.00 0.00 0.00 0.08 0.22 0.35 0.48 0.62 0.75 0.89 1.00 1.00 1.00 1.00 1.00 1.00 0.88 0.69 0.00 0.00 0.00 0.00 0.00 0.00 0.00 0.00 0.00 0.08 0.22 0.35 0.48 0.62 0.75 0.89 1.00 1.00 1.00 1.00 1.00 1.00 0.88 0.69 0.00 0.00 0.00 0.00 0.00 0.00 0.00 0.00 0.00 0.08 0.22 0.35 0.48 0.62 0.75 0.89 1.00 1.00 1.00 1.00 1.00 1.00 0.88 0.69 0.00 0.00 0.00 0.00 0.00 0.00 0.00 0.00 0.00 0.08 0.22 0.35 0.48 0.62 0.75 0.89 1.00 1.00 1.00 1.00 1.00 1.00 0.88 0.69 0.00 0.00 0.00 0.00 0.00 0.00 0.00 0.00 0.00 0.08 0.22 0.35 0.48 0.62 0.75 0.89 1.00 1.00 1.00 1.00 1.00 1.00 0.88 0.69 0.00 0.00 0.00 0.00 0.00 0.00 0.00 0.00 0.00 0.08 0.22 0.35 0.48 0.62 0.75 0.89 1.00 1.00 1.00 1.00 1.00 1.00 0.88 0.69 0.00 0.00 0.00 0.00 0.00 0.00 0.00 0.00 0.00 0.08 0.22 0.35 0.48 0.62 0.75 0.89 1.00 1.00 1.00 1.00 1.00 1.00 0.88 0.69 0.00 0.00 0.00 0.00 0.00 0.00 0.00 0.00 0.00 0.08 0.22 0.35 0.48 0.62 0.75 0.89 1.00 1.00 1.00 1.00 1.00 1.00 0.88 0.69 0.00 0.00 0.00 0.00 0.00 0.00 0.00 0.00 0.00 0.08 0.22 0.35 0.48 0.62 0.75 0.89 1.00 1.00 1.00 1.00 1.00 1.00 0.88 0.69 0.00"/><feFuncG type="table" tableValues="0.00 0.00 0.00 0.00 0.17 0.33 0.50 0.67 0.83 1.00 1.00 1.00 1.00 1.00 1.00 1.00 0.90 0.75 0.59 0.44 0.28 0.13 0.00 0.00 0.00 0.00 0.00 0.00 0.17 0.33 0.50 0.67 0.83 1.00 1.00 1.00 1.00 1.00 1.00 1.00 0.90 0.75 0.59 0.44 0.28 0.13 0.00 0.00 0.00 0.00 0.00 0.00 0.17 0.33 0.50 0.67 0.83 1.00 1.00 1.00 1.00 1.00 1.00 1.00 0.90 0.75 0.59 0.44 0.28 0.13 0.00 0.00 0.00 0.00 0.00 0.00 0.17 0.33 0.50 0.67 0.83 1.00 1.00 1.00 1.00 1.00 1.00 1.00 0.90 0.75 0.59 0.44 0.28 0.13 0.00 0.00 0.00 0.00 0.00 0.00 0.17 0.33 0.50 0.67 0.83 1.00 1.00 1.00 1.00 1.00 1.00 1.00 0.90 0.75 0.59 0.44 0.28 0.13 0.00 0.00 0.00 0.00 0.00 0.00 0.17 0.33 0.50 0.67 0.83 1.00 1.00 1.00 1.00 1.00 1.00 1.00 0.90 0.75 0.59 0.44 0.28 0.13 0.00 0.00 0.00 0.00 0.00 0.00 0.17 0.33 0.50 0.67 0.83 1.00 1.00 1.00 1.00 1.00 1.00 1.00 0.90 0.75 0.59 0.44 0.28 0.13 0.00 0.00 0.00 0.00 0.00 0.00 0.17 0.33 0.50 0.67 0.83 1.00 1.00 1.00 1.00 1.00 1.00 1.00 0.90 0.75 0.59 0.44 0.28 0.13 0.00 0.00 0.00 0.00 0.00 0.00 0.17 0.33 0.50 0.67 0.83 1.00 1.00 1.00 1.00 1.00 1.00 1.00 0.90 0.75 0.59 0.44 0.28 0.13 0.00 0.00 0.00 0.00 0.00 0.00 0.17 0.33 0.50 0.67 0.83 1.00 1.00 1.00 1.00 1.00 1.00 1.00 0.90 0.75 0.59 0.44 0.28 0.13 0.00 0.00 0.00 0.00 0.00 0.00 0.17 0.33 0.50 0.67 0.83 1.00 1.00 1.00 1.00 1.00 1.00 1.00 0.90 0.75 0.59 0.44 0.28 0.13 0.00 0.00 0.00 0.00 0.00 0.00 0.17 0.33 0.50 0.67 0.83 1.00 1.00 1.00 1.00 1.00 1.00 1.00 0.90 0.75 0.59 0.44 0.28 0.13 0.00 0.00 0.00 0.00 0.00 0.00 0.17 0.33 0.50 0.67 0.83 1.00 1.00 1.00 1.00 1.00 1.00 1.00 0.90 0.75 0.59 0.44 0.28 0.13 0.00 0.00 0.00 0.00 0.00 0.00 0.17 0.33 0.50 0.67 0.83 1.00 1.00 1.00 1.00 1.00 1.00 1.00 0.90 0.75 0.59 0.44 0.28 0.13 0.00 0.00 0.00 0.00 0.00 0.00 0.17 0.33 0.50 0.67 0.83 1.00 1.00 1.00 1.00 1.00 1.00 1.00 0.90 0.75 0.59 0.44 0.28 0.13 0.00 0.00 0.00 0.00 0.00 0.00 0.17 0.33 0.50 0.67 0.83 1.00 1.00 1.00 1.00 1.00 1.00 1.00 0.90 0.75 0.59 0.44 0.28 0.13 0.00 0.00 0.00 0.00 0.00 0.00 0.17 0.33 0.50 0.67 0.83 1.00 1.00 1.00 1.00 1.00 1.00 1.00 0.90 0.75 0.59 0.44 0.28 0.13 0.00 0.00 0.00 0.00 0.00 0.00 0.17 0.33 0.50 0.67 0.83 1.00 1.00 1.00 1.00 1.00 1.00 1.00 0.90 0.75 0.59 0.44 0.28 0.13 0.00 0.00 0.00 0.00 0.00 0.00 0.17 0.33 0.50 0.67 0.83 1.00 1.00 1.00 1.00 1.00 1.00 1.00 0.90 0.75 0.59 0.44 0.28 0.13 0.00 0.00 0.00 0.00 0.00 0.00 0.17 0.33 0.50 0.67 0.83 1.00 1.00 1.00 1.00 1.00 1.00 1.00 0.90 0.75 0.59 0.44 0.28 0.13 0.00 0.00 0.00"/><feFuncB type="table" tableValues="0.50 0.69 0.88 1.00 1.00 1.00 1.00 1.00 1.00 0.89 0.75 0.62 0.48 0.35 0.22 0.08 0.00 0.00 0.00 0.00 0.00 0.00 0.00 0.00 0.50 0.69 0.88 1.00 1.00 1.00 1.00 1.00 1.00 0.89 0.75 0.62 0.48 0.35 0.22 0.08 0.00 0.00 0.00 0.00 0.00 0.00 0.00 0.00 0.50 0.69 0.88 1.00 1.00 1.00 1.00 1.00 1.00 0.89 0.75 0.62 0.48 0.35 0.22 0.08 0.00 0.00 0.00 0.00 0.00 0.00 0.00 0.00 0.50 0.69 0.88 1.00 1.00 1.00 1.00 1.00 1.00 0.89 0.75 0.62 0.48 0.35 0.22 0.08 0.00 0.00 0.00 0.00 0.00 0.00 0.00 0.00 0.50 0.69 0.88 1.00 1.00 1.00 1.00 1.00 1.00 0.89 0.75 0.62 0.48 0.35 0.22 0.08 0.00 0.00 0.00 0.00 0.00 0.00 0.00 0.00 0.50 0.69 0.88 1.00 1.00 1.00 1.00 1.00 1.00 0.89 0.75 0.62 0.48 0.35 0.22 0.08 0.00 0.00 0.00 0.00 0.00 0.00 0.00 0.00 0.50 0.69 0.88 1.00 1.00 1.00 1.00 1.00 1.00 0.89 0.75 0.62 0.48 0.35 0.22 0.08 0.00 0.00 0.00 0.00 0.00 0.00 0.00 0.00 0.50 0.69 0.88 1.00 1.00 1.00 1.00 1.00 1.00 0.89 0.75 0.62 0.48 0.35 0.22 0.08 0.00 0.00 0.00 0.00 0.00 0.00 0.00 0.00 0.50 0.69 0.88 1.00 1.00 1.00 1.00 1.00 1.00 0.89 0.75 0.62 0.48 0.35 0.22 0.08 0.00 0.00 0.00 0.00 0.00 0.00 0.00 0.00 0.50 0.69 0.88 1.00 1.00 1.00 1.00 1.00 1.00 0.89 0.75 0.62 0.48 0.35 0.22 0.08 0.00 0.00 0.00 0.00 0.00 0.00 0.00 0.00 0.50 0.69 0.88 1.00 1.00 1.00 1.00 1.00 1.00 0.89 0.75 0.62 0.48 0.35 0.22 0.08 0.00 0.00 0.00 0.00 0.00 0.00 0.00 0.00 0.50 0.69 0.88 1.00 1.00 1.00 1.00 1.00 1.00 0.89 0.75 0.62 0.48 0.35 0.22 0.08 0.00 0.00 0.00 0.00 0.00 0.00 0.00 0.00 0.50 0.69 0.88 1.00 1.00 1.00 1.00 1.00 1.00 0.89 0.75 0.62 0.48 0.35 0.22 0.08 0.00 0.00 0.00 0.00 0.00 0.00 0.00 0.00 0.50 0.69 0.88 1.00 1.00 1.00 1.00 1.00 1.00 0.89 0.75 0.62 0.48 0.35 0.22 0.08 0.00 0.00 0.00 0.00 0.00 0.00 0.00 0.00 0.50 0.69 0.88 1.00 1.00 1.00 1.00 1.00 1.00 0.89 0.75 0.62 0.48 0.35 0.22 0.08 0.00 0.00 0.00 0.00 0.00 0.00 0.00 0.00 0.50 0.69 0.88 1.00 1.00 1.00 1.00 1.00 1.00 0.89 0.75 0.62 0.48 0.35 0.22 0.08 0.00 0.00 0.00 0.00 0.00 0.00 0.00 0.00 0.50 0.69 0.88 1.00 1.00 1.00 1.00 1.00 1.00 0.89 0.75 0.62 0.48 0.35 0.22 0.08 0.00 0.00 0.00 0.00 0.00 0.00 0.00 0.00 0.50 0.69 0.88 1.00 1.00 1.00 1.00 1.00 1.00 0.89 0.75 0.62 0.48 0.35 0.22 0.08 0.00 0.00 0.00 0.00 0.00 0.00 0.00 0.00 0.50 0.69 0.88 1.00 1.00 1.00 1.00 1.00 1.00 0.89 0.75 0.62 0.48 0.35 0.22 0.08 0.00 0.00 0.00 0.00 0.00 0.00 0.00 0.00 0.50 0.69 0.88 1.00 1.00 1.00 1.00 1.00 1.00 0.89 0.75 0.62 0.48 0.35 0.22 0.08 0.00 0.00 0.00 0.00 0.00 0.00 0.00 0.00 0.50"/></feComponentTransfer>
</filter></defs>
<rect width="1050" height="800" fill="#fff"/>
<g filter="url(#ph)" shape-rendering="crispEdges"><rect x="131" y="85" width="178" height="81" fill="url(#g0)"/><rect x="131" y="347" width="178" height="17" fill="url(#g0)"/><rect x="131" y="502" width="178" height="218" fill="url(#g0)"/><rect x="344" y="85" width="177" height="81" fill="url(#g0)"/><rect x="344" y="347" width="177" height="17" fill="url(#g0)"/><rect x="344" y="502" width="177" height="218" fill="url(#g0)"/><rect x="556" y="85" width="178" height="81" fill="url(#g0)"/><rect x="556" y="347" width="178" height="17" fill="url(#g0)"/><rect x="556" y="502" width="178" height="218" fill="url(#g0)"/><rect x="768" y="85" width="178" height="81" fill="url(#g0)"/><rect x="768" y="347" width="178" height="17" fill="url(#g0)"/><rect x="768" y="502" width="178" height="218" fill="url(#g0)"/></g>
<g filter="url(#fr)" shape-rendering="crispEdges"><rect x="238" y="85" width="71" height="34" fill="url(#h0)"/><rect x="238" y="85" width="71" height="34" fill="url(#h1)"/><rect x="238" y="85" width="71" height="34" fill="url(#h2)" class="s"/><rect x="238" y="85" width="71" height="34" fill="url(#c0)" class="s"/><rect x="238" y="119" width="71" height="10" fill="url(#h0)"/><rect x="238" y="119" width="71" height="10" fill="url(#h3)"/><rect x="238" y="119" width="71" height="10" fill="url(#h2)" class="s"/><rect x="238" y="119" width="71" height="10" fill="url(#c1)" class="s"/><rect x="241" y="141" width="57" height="25" fill="url(#h4)"/><rect x="241" y="141" width="57" height="25" fill="url(#h5)"/><rect x="241" y="141" width="57" height="25" fill="url(#h2)" class="s"/><rect x="241" y="141" width="57" height="25" fill="url(#c2)" class="s"/><rect x="211" y="347" width="98" height="9" fill="url(#h6)"/><rect x="211" y="347" width="98" height="9" fill="url(#h7)"/><rect x="211" y="347" width="98" height="9" fill="url(#h2)" class="s"/><rect x="211" y="347" width="98" height="9" fill="url(#c3)" class="s"/><rect x="211" y="356" width="98" height="8" fill="url(#h6)"/><rect x="211" y="356" width="98" height="8" fill="url(#h8)"/><rect x="211" y="356" width="98" height="8" fill="url(#h2)" class="s"/><rect x="211" y="356" width="98" height="8" fill="url(#c4)" class="s"/><rect x="238" y="502" width="71" height="12" fill="url(#h9)"/><rect x="238" y="502" width="71" height="12" fill="url(#h10)"/><rect x="238" y="502" width="71" height="12" fill="url(#h2)" class="s"/><rect x="238" y="502" width="71" height="12" fill="url(#c5)" class="s"/><rect x="234" y="519" width="71" height="30" fill="url(#h11)"/><rect x="234" y="519" width="71" height="30" fill="url(#h1)"/><rect x="234" y="519" width="71" height="30" fill="url(#h2)" class="s"/><rect x="234" y="519" width="71" height="30" fill="url(#c6)" class="s"/><rect x="234" y="549" width="75" height="8" fill="url(#h12)"/><rect x="234" y="549" width="75" height="8" fill="url(#h8)"/><rect x="234" y="549" width="75" height="8" fill="url(#h2)" class="s"/><rect x="234" y="549" width="75" height="8" fill="url(#c7)" class="s"/><rect x="229" y="558" width="80" height="33" fill="url(#h13)"/><rect x="229" y="558" width="80" height="33" fill="url(#h14)"/><rect x="229" y="558" width="80" height="33" fill="url(#h2)" class="s"/><rect x="229" y="558" width="80" height="33" fill="url(#c8)" class="s"/><rect x="131" y="593" width="178" height="33" fill="url(#h11)"/><rect x="131" y="593" width="178" height="33" fill="url(#h15)"/><rect x="131" y="593" width="178" height="33" fill="url(#h16)" class="s"/><rect x="131" y="593" width="178" height="33" fill="url(#c9)" class="s"/><rect x="131" y="632" width="178" height="8" fill="url(#h11)"/><rect x="131" y="632" width="178" height="8" fill="url(#h17)"/><rect x="131" y="632" width="178" height="8" fill="url(#h16)" class="s"/><rect x="131" y="632" width="178" height="8" fill="url(#c10)" class="s"/><rect x="131" y="640" width="178" height="12" fill="url(#h11)"/><rect x="131" y="640" width="178" height="12" fill="url(#h18)"/><rect x="131" y="640" width="178" height="12" fill="url(#h16)" class="s"/><rect x="131" y="640" width="178" height="12" fill="url(#c11)" class="s"/><rect x="131" y="656" width="178" height="9" fill="url(#h11)"/><rect x="131" y="656" width="178" height="9" fill="url(#h7)"/><rect x="131" y="656" width="178" height="9" fill="url(#h16)" class="s"/><rect x="131" y="656" width="178" height="9" fill="url(#c12)" class="s"/><rect x="131" y="665" width="178" height="14" fill="url(#h11)"/><rect x="131" y="665" width="178" height="14" fill="url(#h19)"/><rect x="131" y="665" width="178" height="14" fill="url(#h16)" class="s"/><rect x="131" y="665" width="178" height="14" fill="url(#c13)" class="s"/><rect x="167" y="684" width="142" height="36" fill="url(#h11)"/><rect x="167" y="684" width="142" height="36" fill="url(#h20)"/><rect x="167" y="684" width="142" height="36" fill="url(#h16)" class="s"/><rect x="167" y="684" width="142" height="36" fill="url(#c14)" class="s"/><rect x="450" y="85" width="71" height="34" fill="url(#h0)"/><rect x="450" y="85" width="71" height="34" fill="url(#h1)"/><rect x="450" y="85" width="71" height="34" fill="url(#h2)" class="s"/><rect x="450" y="85" width="71" height="34" fill="url(#c15)" class="s"/><rect x="450" y="119" width="71" height="10" fill="url(#h0)"/><rect x="450" y="119" width="71" height="10" fill="url(#h3)"/><rect x="450" y="119" width="71" height="10" fill="url(#h2)" class="s"/><rect x="450" y="119" width="71" height="10" fill="url(#c16)" class="s"/><rect x="457" y="141" width="27" height="17" fill="url(#h21)"/><rect x="457" y="141" width="27" height="17" fill="url(#h22)"/><rect x="457" y="141" width="27" height="17" fill="url(#h23)" class="s"/><rect x="484" y="141" width="26" height="17" fill="url(#h24)"/><rect x="484" y="141" width="26" height="17" fill="url(#h22)"/><rect x="484" y="141" width="26" height="17" fill="url(#h23)" class="s"/><rect x="457" y="158" width="27" height="8" fill="url(#h21)"/><rect x="457" y="158" width="27" height="8" fill="url(#h25)"/><rect x="457" y="158" width="27" height="8" fill="url(#h23)" class="s"/><rect x="484" y="158" width="26" height="8" fill="url(#h24)"/><rect x="484" y="158" width="26" height="8" fill="url(#h25)"/><rect x="484" y="158" width="26" height="8" fill="url(#h23)" class="s"/><rect x="424" y="347" width="97" height="9" fill="url(#h6)"/><rect x="424" y="347" width="97" height="9" fill="url(#h7)"/><rect x="424" y="347" width="97" height="9" fill="url(#h2)" class="s"/><rect x="424" y="347" width="97" height="9" fill="url(#c17)" class="s"/><rect x="424" y="356" width="97" height="8" fill="url(#h6)"/><rect x="424" y="356" width="97" height="8" fill="url(#h8)"/><rect x="424" y="356" width="97" height="8" fill="url(#h2)" class="s"/><rect x="424" y="356" width="97" height="8" fill="url(#c18)" class="s"/><rect x="450" y="502" width="71" height="12" fill="url(#h9)"/><rect x="450" y="502" width="71" height="12" fill="url(#h10)"/><rect x="450" y="502" width="71" height="12" fill="url(#h2)" class="s"/><rect x="450" y="502" width="71" height="12" fill="url(#c19)" class="s"/><rect x="447" y="519" width="70" height="30" fill="url(#h11)"/><rect x="447" y="519" width="70" height="30" fill="url(#h1)"/><rect x="447" y="519" width="70" height="30" fill="url(#h2)" class="s"/><rect x="447" y="519" width="70" height="30" fill="url(#c20)" class="s"/><rect x="447" y="549" width="74" height="8" fill="url(#h12)"/><rect x="447" y="549" width="74" height="8" fill="url(#h8)"/><rect x="447" y="549" width="74" height="8" fill="url(#h2)" class="s"/><rect x="447" y="549" width="74" height="8" fill="url(#c21)" class="s"/><rect x="441" y="558" width="80" height="33" fill="url(#h13)"/><rect x="441" y="558" width="80" height="33" fill="url(#h14)"/><rect x="441" y="558" width="80" height="33" fill="url(#h2)" class="s"/><rect x="441" y="558" width="80" height="33" fill="url(#c22)" class="s"/><rect x="344" y="593" width="177" height="33" fill="url(#h11)"/><rect x="344" y="593" width="177" height="33" fill="url(#h15)"/><rect x="344" y="593" width="177" height="33" fill="url(#h16)" class="s"/><rect x="344" y="593" width="177" height="33" fill="url(#c23)" class="s"/><rect x="344" y="632" width="177" height="8" fill="url(#h11)"/><rect x="344" y="632" width="177" height="8" fill="url(#h17)"/><rect x="344" y="632" width="177" height="8" fill="url(#h16)" class="s"/><rect x="344" y="632" width="177" height="8" fill="url(#c24)" class="s"/><rect x="344" y="640" width="177" height="12" fill="url(#h11)"/><rect x="344" y="640" width="177" height="12" fill="url(#h18)"/><rect x="344" y="640" width="177" height="12" fill="url(#h16)" class="s"/><rect x="344" y="640" width="177" height="12" fill="url(#c25)" class="s"/><rect x="344" y="656" width="177" height="9" fill="url(#h11)"/><rect x="344" y="656" width="177" height="9" fill="url(#h7)"/><rect x="344" y="656" width="177" height="9" fill="url(#h16)" class="s"/><rect x="344" y="656" width="177" height="9" fill="url(#c26)" class="s"/><rect x="344" y="665" width="177" height="14" fill="url(#h11)"/><rect x="344" y="665" width="177" height="14" fill="url(#h19)"/><rect x="344" y="665" width="177" height="14" fill="url(#h16)" class="s"/><rect x="344" y="665" width="177" height="14" fill="url(#c27)" class="s"/><rect x="379" y="684" width="142" height="36" fill="url(#h11)"/><rect x="379" y="684" width="142" height="36" fill="url(#h20)"/><rect x="379" y="684" width="142" height="36" fill="url(#h16)" class="s"/><rect x="379" y="684" width="142" height="36" fill="url(#c28)" class="s"/><rect x="592" y="85" width="142" height="34" fill="url(#h0)"/><rect x="592" y="85" width="142" height="34" fill="url(#h1)"/><rect x="592" y="85" width="142" height="34" fill="url(#h26)" class="s"/><rect x="592" y="85" width="142" height="34" fill="url(#c29)" class="s"/><rect x="592" y="119" width="142" height="10" fill="url(#h0)"/><rect x="592" y="119" width="142" height="10" fill="url(#h3)"/><rect x="592" y="119" width="142" height="10" fill="url(#h26)" class="s"/><rect x="592" y="119" width="142" height="10" fill="url(#c30)" class="s"/><rect x="670" y="141" width="27" height="17" fill="url(#h21)"/><rect x="670" y="141" width="27" height="17" fill="url(#h22)"/><rect x="670" y="141" width="27" height="17" fill="url(#h27)" class="s"/><rect x="697" y="141" width="26" height="17" fill="url(#h24)"/><rect x="697" y="141" width="26" height="17" fill="url(#h22)"/><rect x="697" y="141" width="26" height="17" fill="url(#h27)" class="s"/><rect x="670" y="158" width="27" height="8" fill="url(#h21)"/><rect x="670" y="158" width="27" height="8" fill="url(#h25)"/><rect x="670" y="158" width="27" height="8" fill="url(#h27)" class="s"/><rect x="697" y="158" width="26" height="8" fill="url(#h24)"/><rect x="697" y="158" width="26" height="8" fill="url(#h25)"/><rect x="697" y="158" width="26" height="8" fill="url(#h27)" class="s"/><rect x="565" y="347" width="169" height="9" fill="url(#h6)"/><rect x="565" y="347" width="169" height="9" fill="url(#h7)"/><rect x="565" y="347" width="169" height="9" fill="url(#h26)" class="s"/><rect x="565" y="347" width="169" height="9" fill="url(#c31)" class="s"/><rect x="565" y="356" width="169" height="8" fill="url(#h6)"/><rect x="565" y="356" width="169" height="8" fill="url(#h8)"/><rect x="565" y="356" width="169" height="8" fill="url(#h26)" class="s"/><rect x="565" y="356" width="169" height="8" fill="url(#c32)" class="s"/><rect x="592" y="502" width="142" height="12" fill="url(#h9)"/><rect x="592" y="502" width="142" height="12" fill="url(#h10)"/><rect x="592" y="502" width="142" height="12" fill="url(#h26)" class="s"/><rect x="592" y="502" width="142" height="12" fill="url(#c33)" class="s"/><rect x="588" y="519" width="142" height="30" fill="url(#h11)"/><rect x="588" y="519" width="142" height="30" fill="url(#h1)"/><rect x="588" y="519" width="142" height="30" fill="url(#h26)" class="s"/><rect x="588" y="519" width="142" height="30" fill="url(#c34)" class="s"/><rect x="588" y="549" width="146" height="8" fill="url(#h12)"/><rect x="588" y="549" width="146" height="8" fill="url(#h8)"/><rect x="588" y="549" width="146" height="8" fill="url(#h26)" class="s"/><rect x="588" y="549" width="146" height="8" fill="url(#c35)" class="s"/><rect x="583" y="558" width="151" height="33" fill="url(#h13)"/><rect x="583" y="558" width="151" height="33" fill="url(#h14)"/><rect x="583" y="558" width="151" height="33" fill="url(#h26)" class="s"/><rect x="583" y="558" width="151" height="33" fill="url(#c36)" class="s"/><rect x="556" y="593" width="178" height="33" fill="url(#h11)"/><rect x="556" y="593" width="178" height="33" fill="url(#h15)"/><rect x="556" y="593" width="178" height="33" fill="url(#h28)" class="s"/><rect x="556" y="593" width="178" height="33" fill="url(#c37)" class="s"/><rect x="556" y="632" width="178" height="8" fill="url(#h11)"/><rect x="556" y="632" width="178" height="8" fill="url(#h17)"/><rect x="556" y="632" width="178" height="8" fill="url(#h28)" class="s"/><rect x="556" y="632" width="178" height="8" fill="url(#c38)" class="s"/><rect x="556" y="640" width="178" height="12" fill="url(#h11)"/><rect x="556" y="640" width="178" height="12" fill="url(#h18)"/><rect x="556" y="640" width="178" height="12" fill="url(#h28)" class="s"/><rect x="556" y="640" width="178" height="12" fill="url(#c39)" class="s"/><rect x="556" y="656" width="178" height="9" fill="url(#h11)"/><rect x="556" y="656" width="178" height="9" fill="url(#h7)"/><rect x="556" y="656" width="178" height="9" fill="url(#h28)" class="s"/><rect x="556" y="656" width="178" height="9" fill="url(#c40)" class="s"/><rect x="556" y="665" width="178" height="14" fill="url(#h11)"/><rect x="556" y="665" width="178" height="14" fill="url(#h19)"/><rect x="556" y="665" width="178" height="14" fill="url(#h28)" class="s"/><rect x="556" y="665" width="178" height="14" fill="url(#c41)" class="s"/><rect x="592" y="684" width="142" height="36" fill="url(#h11)"/><rect x="592" y="684" width="142" height="36" fill="url(#h20)"/><rect x="592" y="684" width="142" height="36" fill="url(#h28)" class="s"/><rect x="592" y="684" width="142" height="36" fill="url(#c42)" class="s"/><rect x="804" y="85" width="142" height="34" fill="url(#h0)"/><rect x="804" y="85" width="142" height="34" fill="url(#h1)"/><rect x="804" y="85" width="142" height="34" fill="url(#h26)" class="s"/><rect x="804" y="85" width="142" height="34" fill="url(#c43)" class="s"/><rect x="804" y="119" width="142" height="10" fill="url(#h0)"/><rect x="804" y="119" width="142" height="10" fill="url(#h3)"/><rect x="804" y="119" width="142" height="10" fill="url(#h26)" class="s"/><rect x="804" y="119" width="142" height="10" fill="url(#c44)" class="s"/><rect x="882" y="141" width="27" height="17" fill="url(#h21)"/><rect x="882" y="141" width="27" height="17" fill="url(#h22)"/><rect x="882" y="141" width="27" height="17" fill="url(#h27)" class="s"/><rect x="909" y="141" width="26" height="17" fill="url(#h24)"/><rect x="909" y="141" width="26" height="17" fill="url(#h22)"/><rect x="909" y="141" width="26" height="17" fill="url(#h27)" class="s"/><rect x="882" y="158" width="27" height="8" fill="url(#h21)"/><rect x="882" y="158" width="27" height="8" fill="url(#h25)"/><rect x="882" y="158" width="27" height="8" fill="url(#h27)" class="s"/><rect x="909" y="158" width="26" height="8" fill="url(#h24)"/><rect x="909" y="158" width="26" height="8" fill="url(#h25)"/><rect x="909" y="158" width="26" height="8" fill="url(#h27)" class="s"/><rect x="777" y="347" width="169" height="9" fill="url(#h6)"/><rect x="777" y="347" width="169" height="9" fill="url(#h7)"/><rect x="777" y="347" width="169" height="9" fill="url(#h26)" class="s"/><rect x="777" y="347" width="169" height="9" fill="url(#c45)" class="s"/><rect x="777" y="356" width="169" height="8" fill="url(#h6)"/><rect x="777" y="356" width="169" height="8" fill="url(#h8)"/><rect x="777" y="356" width="169" height="8" fill="url(#h26)" class="s"/><rect x="777" y="356" width="169" height="8" fill="url(#c46)" class="s"/><rect x="804" y="502" width="142" height="12" fill="url(#h9)"/><rect x="804" y="502" width="142" height="12" fill="url(#h10)"/><rect x="804" y="502" width="142" height="12" fill="url(#h26)" class="s"/><rect x="804" y="502" width="142" height="12" fill="url(#c47)" class="s"/><rect x="800" y="519" width="142" height="30" fill="url(#h11)"/><rect x="800" y="519" width="142" height="30" fill="url(#h1)"/><rect x="800" y="519" width="142" height="30" fill="url(#h26)" class="s"/><rect x="800" y="519" width="142" height="30" fill="url(#c48)" class="s"/><rect x="800" y="549" width="146" height="8" fill="url(#h12)"/><rect x="800" y="549" width="146" height="8" fill="url(#h8)"/><rect x="800" y="549" width="146" height="8" fill="url(#h26)" class="s"/><rect x="800" y="549" width="146" height="8" fill="url(#c49)" class="s"/><rect x="795" y="558" width="151" height="33" fill="url(#h13)"/><rect x="795" y="558" width="151" height="33" fill="url(#h14)"/><rect x="795" y="558" width="151" height="33" fill="url(#h26)" class="s"/><rect x="795" y="558" width="151" height="33" fill="url(#c50)" class="s"/><rect x="768" y="593" width="178" height="33" fill="url(#h11)"/><rect x="768" y="593" width="178" height="33" fill="url(#h15)"/><rect x="768" y="593" width="178" height="33" fill="url(#h28)" class="s"/><rect x="768" y="593" width="178" height="33" fill="url(#c51)" class="s"/><rect x="768" y="632" width="178" height="8" fill="url(#h11)"/><rect x="768" y="632" width="178" height="8" fill="url(#h17)"/><rect x="768" y="632" width="178" height="8" fill="url(#h28)" class="s"/><rect x="768" y="632" width="178" height="8" fill="url(#c52)" class="s"/><rect x="768" y="640" width="178" height="12" fill="url(#h11)"/><rect x="768" y="640" width="178" height="12" fill="url(#h18)"/><rect x="768" y="640" width="178" height="12" fill="url(#h28)" class="s"/><rect x="768" y="640" width="178" height="12" fill="url(#c53)" class="s"/><rect x="768" y="656" width="178" height="9" fill="url(#h11)"/><rect x="768" y="656" width="178" height="9" fill="url(#h7)"/><rect x="768" y="656" width="178" height="9" fill="url(#h28)" class="s"/><rect x="768" y="656" width="178" height="9" fill="url(#c54)" class="s"/><rect x="768" y="665" width="178" height="14" fill="url(#h11)"/><rect x="768" y="665" width="178" height="14" fill="url(#h19)"/><rect x="768" y="665" width="178" height="14" fill="url(#h28)" class="s"/><rect x="768" y="665" width="178" height="14" fill="url(#c55)" class="s"/><rect x="804" y="684" width="142" height="36" fill="url(#h11)"/><rect x="804" y="684" width="142" height="36" fill="url(#h20)"/><rect x="804" y="684" width="142" height="36" fill="url(#h28)" class="s"/><rect x="804" y="684" width="142" height="36" fill="url(#c56)" class="s"/></g>
<g filter="url(#ph)" shape-rendering="crispEdges"><rect x="131" y="85" width="117" height="22" fill="url(#g1)"/><rect x="131" y="107" width="117" height="2" fill="url(#g2)"/><rect x="131" y="109" width="117" height="1" fill="url(#g1)"/><rect x="131" y="110" width="117" height="2" fill="url(#g3)"/><rect x="131" y="112" width="117" height="1" fill="url(#g1)"/><rect x="131" y="113" width="117" height="2" fill="url(#g4)"/><rect x="131" y="116" width="116" height="4" fill="url(#g5)"/><rect x="131" y="121" width="117" height="3" fill="url(#g1)"/><rect x="131" y="126" width="117" height="2" fill="url(#g6)"/><rect x="131" y="141" width="117" height="25" fill="url(#g1)"/><rect x="131" y="347" width="178" height="1" fill="url(#g7)"/><rect x="131" y="502" width="178" height="3" fill="url(#g8)"/><rect x="131" y="505" width="114" height="5" fill="url(#g9)"/><rect x="131" y="512" width="117" height="2" fill="url(#g10)"/><rect x="131" y="519" width="178" height="3" fill="url(#g11)"/><rect x="131" y="523" width="107" height="6" fill="url(#g12)"/><rect x="131" y="529" width="107" height="5" fill="url(#g13)"/><rect x="131" y="534" width="107" height="6" fill="url(#g14)"/><rect x="131" y="540" width="107" height="6" fill="url(#g15)"/><rect x="131" y="546" width="107" height="5" fill="url(#g16)"/><rect x="131" y="551" width="107" height="6" fill="url(#g17)"/><rect x="131" y="558" width="110" height="6" fill="url(#g18)"/><rect x="131" y="564" width="110" height="6" fill="url(#g19)"/><rect x="131" y="570" width="110" height="5" fill="url(#g20)"/><rect x="131" y="575" width="110" height="6" fill="url(#g21)"/><rect x="131" y="581" width="110" height="6" fill="url(#g22)"/><rect x="131" y="587" width="116" height="4" fill="url(#g23)"/><rect x="131" y="648" width="117" height="2" fill="url(#g24)"/><rect x="131" y="650" width="117" height="2" fill="url(#g25)"/><rect x="131" y="675" width="116" height="4" fill="url(#g23)"/><rect x="131" y="684" width="117" height="2" fill="url(#g26)"/><rect x="131" y="696" width="178" height="1" fill="url(#g27)"/><rect x="131" y="702" width="178" height="1" fill="url(#g27)"/><rect x="131" y="704" width="178" height="1" fill="url(#g28)"/><rect x="131" y="711" width="178" height="1" fill="url(#g27)"/><rect x="344" y="85" width="115" height="23" fill="url(#g29)"/><rect x="344" y="108" width="115" height="7" fill="url(#g30)"/><rect x="344" y="116" width="115" height="12" fill="url(#g31)"/><rect x="344" y="141" width="115" height="3" fill="url(#g29)"/><rect x="344" y="149" width="113" height="17" fill="url(#g32)"/><rect x="344" y="347" width="177" height="1" fill="url(#g33)"/><rect x="344" y="502" width="106" height="4" fill="url(#g34)"/><rect x="344" y="506" width="112" height="4" fill="url(#g35)"/><rect x="344" y="512" width="117" height="2" fill="url(#g36)"/><rect x="344" y="519" width="177" height="3" fill="url(#g37)"/><rect x="344" y="523" width="110" height="7" fill="url(#g38)"/><rect x="344" y="530" width="110" height="7" fill="url(#g39)"/><rect x="344" y="537" width="110" height="6" fill="url(#g40)"/><rect x="344" y="543" width="110" height="7" fill="url(#g41)"/><rect x="344" y="550" width="110" height="7" fill="url(#g42)"/><rect x="344" y="558" width="113" height="6" fill="url(#g43)"/><rect x="344" y="564" width="113" height="6" fill="url(#g44)"/><rect x="344" y="570" width="113" height="5" fill="url(#g45)"/><rect x="344" y="575" width="113" height="6" fill="url(#g46)"/><rect x="344" y="581" width="113" height="6" fill="url(#g47)"/><rect x="344" y="587" width="112" height="4" fill="url(#g35)"/><rect x="344" y="648" width="117" height="2" fill="url(#g48)"/><rect x="344" y="651" width="112" height="1" fill="url(#g35)"/><rect x="344" y="675" width="112" height="4" fill="url(#g35)"/><rect x="344" y="684" width="115" height="2" fill="url(#g49)"/><rect x="344" y="696" width="115" height="1" fill="url(#g50)"/><rect x="344" y="702" width="115" height="1" fill="url(#g51)"/><rect x="344" y="704" width="117" height="1" fill="url(#g52)"/><rect x="344" y="711" width="115" height="1" fill="url(#g53)"/></g>
<g fill="#fff" shape-rendering="crispEdges"><rect x="131" y="86" width="178" height="1"/><rect x="344" y="86" width="177" height="1"/><rect x="556" y="86" width="178" height="1"/><rect x="768" y="86" width="178" height="1"/><rect x="131" y="89" width="178" height="1"/><rect x="344" y="89" width="177" height="1"/><rect x="556" y="89" width="178" height="1"/><rect x="768" y="89" width="178" height="1"/><rect x="131" y="97" width="178" height="1"/><rect x="344" y="97" width="177" height="1"/><rect x="556" y="97" width="178" height="1"/><rect x="768" y="97" width="178" height="1"/><rect x="131" y="120" width="178" height="1"/><rect x="344" y="120" width="177" height="1"/><rect x="556" y="120" width="178" height="1"/><rect x="768" y="120" width="178" height="1"/><rect x="131" y="124" width="178" height="2"/><rect x="344" y="124" width="177" height="2"/><rect x="556" y="124" width="178" height="2"/><rect x="768" y="124" width="178" height="2"/><rect x="131" y="129" width="178" height="12"/><rect x="344" y="129" width="177" height="12"/><rect x="556" y="129" width="178" height="12"/><rect x="768" y="129" width="178" height="12"/><rect x="131" y="142" width="178" height="1"/><rect x="344" y="142" width="177" height="1"/><rect x="556" y="142" width="178" height="1"/><rect x="768" y="142" width="178" height="1"/><rect x="131" y="144" width="178" height="3"/><rect x="344" y="144" width="177" height="3"/><rect x="556" y="144" width="178" height="3"/><rect x="768" y="144" width="178" height="3"/><rect x="131" y="148" width="178" height="1"/><rect x="344" y="148" width="177" height="1"/><rect x="556" y="148" width="178" height="1"/><rect x="768" y="148" width="178" height="1"/><rect x="131" y="156" width="178" height="4"/><rect x="344" y="156" width="177" height="4"/><rect x="556" y="156" width="178" height="4"/><rect x="768" y="156" width="178" height="4"/><rect x="131" y="348" width="178" height="1"/><rect x="344" y="348" width="177" height="1"/><rect x="556" y="348" width="178" height="1"/><rect x="768" y="348" width="178" height="1"/><rect x="131" y="510" width="178" height="2"/><rect x="344" y="510" width="177" height="2"/><rect x="556" y="510" width="178" height="2"/><rect x="768" y="510" width="178" height="2"/><rect x="131" y="516" width="178" height="2"/><rect x="344" y="516" width="177" height="2"/><rect x="556" y="516" width="178" height="2"/><rect x="768" y="516" width="178" height="2"/><rect x="131" y="522" width="178" height="1"/><rect x="344" y="522" width="177" height="1"/><rect x="556" y="522" width="178" height="1"/><rect x="768" y="522" width="178" height="1"/><rect x="131" y="557" width="178" height="1"/><rect x="344" y="557" width="177" height="1"/><rect x="556" y="557" width="178" height="1"/><rect x="768" y="557" width="178" height="1"/><rect x="131" y="591" width="178" height="1"/><rect x="344" y="591" width="177" height="1"/><rect x="556" y="591" width="178" height="1"/><rect x="768" y="591" width="178" height="1"/><rect x="131" y="622" width="178" height="1"/><rect x="344" y="622" width="177" height="1"/><rect x="556" y="622" width="178" height="1"/><rect x="768" y="622" width="178" height="1"/><rect x="131" y="626" width="178" height="6"/><rect x="344" y="626" width="177" height="6"/><rect x="556" y="626" width="178" height="6"/><rect x="768" y="626" width="178" height="6"/><rect x="131" y="652" width="178" height="4"/><rect x="344" y="652" width="177" height="4"/><rect x="556" y="652" width="178" height="4"/><rect x="768" y="652" width="178" height="4"/><rect x="131" y="679" width="178" height="5"/><rect x="344" y="679" width="177" height="5"/><rect x="556" y="679" width="178" height="5"/><rect x="768" y="679" width="178" height="5"/><rect x="131" y="686" width="178" height="1"/><rect x="344" y="686" width="177" height="1"/><rect x="556" y="686" width="178" height="1"/><rect x="768" y="686" width="178" height="1"/><rect x="131" y="695" width="178" height="1"/><rect x="344" y="695" width="177" height="1"/><rect x="556" y="695" width="178" height="1"/><rect x="768" y="695" width="178" height="1"/><rect x="131" y="697" width="178" height="1"/><rect x="344" y="697" width="177" height="1"/><rect x="556" y="697" width="178" height="1"/><rect x="768" y="697" width="178" height="1"/><rect x="131" y="703" width="178" height="1"/><rect x="344" y="703" width="177" height="1"/><rect x="556" y="703" width="178" height="1"/><rect x="768" y="703" width="178" height="1"/><rect x="131" y="705" width="178" height="3"/><rect x="344" y="705" width="177" height="3"/><rect x="556" y="705" width="178" height="3"/><rect x="768" y="705" width="178" height="3"/><rect x="131" y="710" width="178" height="1"/><rect x="344" y="710" width="177" height="1"/><rect x="556" y="710" width="178" height="1"/><rect x="768" y="710" width="178" height="1"/><rect x="131" y="712" width="178" height="1"/><rect x="344" y="712" width="177" height="1"/><rect x="556" y="712" width="178" height="1"/><rect x="768" y="712" width="178" height="1"/><rect x="131" y="717" width="178" height="2"/><rect x="344" y="717" width="177" height="2"/><rect x="556" y="717" width="178" height="2"/><rect x="768" y="717" width="178" height="2"/></g>
<g fill="#000" shape-rendering="crispEdges"><rect x="131" y="115" width="178" height="1"/><rect x="131" y="122" width="178" height="1"/><rect x="131" y="128" width="178" height="1"/><rect x="131" y="147" width="178" height="1"/><rect x="131" y="166" width="178" height="2"/><rect x="131" y="362" width="178" height="1"/><rect x="131" y="514" width="178" height="2"/><rect x="131" y="518" width="178" height="1"/><rect x="131" y="592" width="178" height="1"/><rect x="131" y="647" width="178" height="1"/><rect x="131" y="650" width="178" height="1"/><rect x="131" y="664" width="178" height="1"/><rect x="131" y="674" width="178" height="1"/><rect x="131" y="689" width="178" height="2"/><rect x="344" y="115" width="177" height="1"/><rect x="344" y="122" width="177" height="1"/><rect x="344" y="128" width="177" height="1"/><rect x="344" y="147" width="177" height="1"/><rect x="344" y="166" width="177" height="2"/><rect x="344" y="362" width="177" height="1"/><rect x="344" y="514" width="177" height="2"/><rect x="344" y="518" width="177" height="1"/><rect x="344" y="592" width="177" height="1"/><rect x="344" y="647" width="177" height="1"/><rect x="344" y="650" width="177" height="1"/><rect x="344" y="664" width="177" height="1"/><rect x="344" y="674" width="177" height="1"/><rect x="344" y="689" width="177" height="2"/><rect x="556" y="115" width="178" height="1"/><rect x="556" y="122" width="178" height="1"/><rect x="556" y="128" width="178" height="1"/><rect x="556" y="147" width="178" height="1"/><rect x="556" y="166" width="178" height="2"/><rect x="556" y="362" width="178" height="1"/><rect x="556" y="514" width="178" height="2"/><rect x="556" y="518" width="178" height="1"/><rect x="556" y="592" width="178" height="1"/><rect x="556" y="647" width="178" height="1"/><rect x="556" y="650" width="178" height="1"/><rect x="556" y="664" width="178" height="1"/><rect x="556" y="674" width="178" height="1"/><rect x="556" y="689" width="178" height="2"/><rect x="768" y="115" width="178" height="1"/><rect x="768" y="122" width="178" height="1"/><rect x="768" y="128" width="178" height="1"/><rect x="768" y="147" width="178" height="1"/><rect x="768" y="166" width="178" height="2"/><rect x="768" y="362" width="178" height="1"/><rect x="768" y="514" width="178" height="2"/><rect x="768" y="518" width="178" height="1"/><rect x="768" y="592" width="178" height="1"/><rect x="768" y="647" width="178" height="1"/><rect x="768" y="650" width="178" height="1"/><rect x="768" y="664" width="178" height="1"/><rect x="768" y="674" width="178" height="1"/><rect x="768" y="689" width="178" height="2"/></g>
<path d="M173.5 720.50v-6.06M173.5 80.50v6.06M214.5 720.50v-6.06M214.5 80.50v6.06M256.5 720.50v-6.06M256.5 80.50v6.06M297.5 720.50v-6.06M297.5 80.50v6.06M131.50 187.5h6.06M308.50 187.5h-6.06M131.50 320.5h6.06M308.50 320.5h-6.06M131.50 453.5h6.06M308.50 453.5h-6.06M131.50 587.5h6.06M308.50 587.5h-6.06" stroke="#000" stroke-width="0.69" fill="none"/><rect x="131.5" y="80.5" width="177.0" height="640.0" fill="none" stroke="#000" stroke-width="1.39"/><path d="M385.5 720.50v-6.06M385.5 80.50v6.06M426.5 720.50v-6.06M426.5 80.50v6.06M468.5 720.50v-6.06M468.5 80.50v6.06M509.5 720.50v-6.06M509.5 80.50v6.06M344.50 187.5h6.06M520.50 187.5h-6.06M344.50 320.5h6.06M520.50 320.5h-6.06M344.50 453.5h6.06M520.50 453.5h-6.06M344.50 587.5h6.06M520.50 587.5h-6.06" stroke="#000" stroke-width="0.69" fill="none"/><rect x="344.5" y="80.5" width="176.0" height="640.0" fill="none" stroke="#000" stroke-width="1.39"/><path d="M597.5 720.50v-6.06M597.5 80.50v6.06M639.5 720.50v-6.06M639.5 80.50v6.06M680.5 720.50v-6.06M680.5 80.50v6.06M722.5 720.50v-6.06M722.5 80.50v6.06M556.50 187.5h6.06M733.50 187.5h-6.06M556.50 320.5h6.06M733.50 320.5h-6.06M556.50 453.5h6.06M733.50 453.5h-6.06M556.50 587.5h6.06M733.50 587.5h-6.06" stroke="#000" stroke-width="0.69" fill="none"/><rect x="556.5" y="80.5" width="177.0" height="640.0" fill="none" stroke="#000" stroke-width="1.39"/><path d="M810.5 720.50v-6.06M810.5 80.50v6.06M851.5 720.50v-6.06M851.5 80.50v6.06M892.5 720.50v-6.06M892.5 80.50v6.06M934.5 720.50v-6.06M934.5 80.50v6.06M768.50 187.5h6.06M945.50 187.5h-6.06M768.50 320.5h6.06M945.50 320.5h-6.06M768.50 453.5h6.06M945.50 453.5h-6.06M768.50 587.5h6.06M945.50 587.5h-6.06" stroke="#000" stroke-width="0.69" fill="none"/><rect x="768.5" y="80.5" width="177.0" height="640.0" fill="none" stroke="#000" stroke-width="1.39"/>
<rect x="1019.5" y="160.4" width="15.1" height="480.0" fill="url(#cb)"/>
<path d="M1022.52 160.40v5.56M1022.52 640.40v-5.56M1025.54 160.40v5.56M1025.54 640.40v-5.56M1028.56 160.40v5.56M1028.56 640.40v-5.56M1031.58 160.40v5.56M1031.58 640.40v-5.56M1019.50 600.50h5.56M1034.60 600.50h-5.56M1019.50 533.50h5.56M1034.60 533.50h-5.56M1019.50 467.50h5.56M1034.60 467.50h-5.56M1019.50 400.50h5.56M1034.60 400.50h-5.56M1019.50 333.50h5.56M1034.60 333.50h-5.56M1019.50 267.50h5.56M1034.60 267.50h-5.56M1019.50 200.50h5.56M1034.60 200.50h-5.56" stroke="#000" stroke-width="0.69" fill="none"/>
<rect x="1019.5" y="160.4" width="15.1" height="480.0" fill="none" stroke="#000" stroke-width="1.39"/>
<g font-family="DejaVu Sans, Liberation Sans, sans-serif" fill="#000"><text x="589.30" y="26.00" font-size="12.50" text-anchor="middle" >2017-12-06 0.0-24.0</text><text x="221.00" y="73.00" font-size="15.05" text-anchor="middle" >XX, V0*V6=EA23*EA09</text><text x="131.55" y="736.00" font-size="12.00" text-anchor="middle" letter-spacing="0.2">320</text><text x="173.01" y="736.00" font-size="12.00" text-anchor="middle" letter-spacing="0.2">335</text><text x="214.47" y="736.00" font-size="12.00" text-anchor="middle" letter-spacing="0.2">350</text><text x="255.93" y="736.00" font-size="12.00" text-anchor="middle" letter-spacing="0.2">365</text><text x="297.39" y="736.00" font-size="12.00" text-anchor="middle" letter-spacing="0.2">380</text><text x="126.60" y="723.60" font-size="12.00" text-anchor="end" letter-spacing="0.2">0</text><text x="126.60" y="590.27" font-size="12.00" text-anchor="end" letter-spacing="0.2">5</text><text x="126.60" y="456.93" font-size="12.00" text-anchor="end" letter-spacing="0.2">10</text><text x="126.60" y="323.60" font-size="12.00" text-anchor="end" letter-spacing="0.2">15</text><text x="126.60" y="190.27" font-size="12.00" text-anchor="end" letter-spacing="0.2">20</text><text x="433.50" y="73.00" font-size="15.05" text-anchor="middle" >YY, V0*V6=EA23*EA09</text><text x="343.83" y="736.00" font-size="12.00" text-anchor="middle" letter-spacing="0.2">320</text><text x="385.29" y="736.00" font-size="12.00" text-anchor="middle" letter-spacing="0.2">335</text><text x="426.75" y="736.00" font-size="12.00" text-anchor="middle" letter-spacing="0.2">350</text><text x="468.21" y="736.00" font-size="12.00" text-anchor="middle" letter-spacing="0.2">365</text><text x="509.67" y="736.00" font-size="12.00" text-anchor="middle" letter-spacing="0.2">380</text><text x="339.60" y="723.60" font-size="12.00" text-anchor="end" letter-spacing="0.2">0</text><text x="339.60" y="590.27" font-size="12.00" text-anchor="end" letter-spacing="0.2">5</text><text x="339.60" y="456.93" font-size="12.00" text-anchor="end" letter-spacing="0.2">10</text><text x="339.60" y="323.60" font-size="12.00" text-anchor="end" letter-spacing="0.2">15</text><text x="339.60" y="190.27" font-size="12.00" text-anchor="end" letter-spacing="0.2">20</text><text x="646.00" y="73.00" font-size="15.05" text-anchor="middle" >XY, V0*V6=EA23*EA09</text><text x="556.12" y="736.00" font-size="12.00" text-anchor="middle" letter-spacing="0.2">320</text><text x="597.58" y="736.00" font-size="12.00" text-anchor="middle" letter-spacing="0.2">335</text><text x="639.04" y="736.00" font-size="12.00" text-anchor="middle" letter-spacing="0.2">350</text><text x="680.50" y="736.00" font-size="12.00" text-anchor="middle" letter-spacing="0.2">365</text><text x="721.96" y="736.00" font-size="12.00" text-anchor="middle" letter-spacing="0.2">380</text><text x="551.60" y="723.60" font-size="12.00" text-anchor="end" letter-spacing="0.2">0</text><text x="551.60" y="590.27" font-size="12.00" text-anchor="end" letter-spacing="0.2">5</text><text x="551.60" y="456.93" font-size="12.00" text-anchor="end" letter-spacing="0.2">10</text><text x="551.60" y="323.60" font-size="12.00" text-anchor="end" letter-spacing="0.2">15</text><text x="551.60" y="190.27" font-size="12.00" text-anchor="end" letter-spacing="0.2">20</text><text x="858.00" y="73.00" font-size="15.05" text-anchor="middle" >YX, V0*V6=EA23*EA09</text><text x="768.40" y="736.00" font-size="12.00" text-anchor="middle" letter-spacing="0.2">320</text><text x="809.86" y="736.00" font-size="12.00" text-anchor="middle" letter-spacing="0.2">335</text><text x="851.32" y="736.00" font-size="12.00" text-anchor="middle" letter-spacing="0.2">350</text><text x="892.78" y="736.00" font-size="12.00" text-anchor="middle" letter-spacing="0.2">365</text><text x="934.24" y="736.00" font-size="12.00" text-anchor="middle" letter-spacing="0.2">380</text><text x="763.60" y="723.60" font-size="12.00" text-anchor="end" letter-spacing="0.2">0</text><text x="763.60" y="590.27" font-size="12.00" text-anchor="end" letter-spacing="0.2">5</text><text x="763.60" y="456.93" font-size="12.00" text-anchor="end" letter-spacing="0.2">10</text><text x="763.60" y="323.60" font-size="12.00" text-anchor="end" letter-spacing="0.2">15</text><text x="763.60" y="190.27" font-size="12.00" text-anchor="end" letter-spacing="0.2">20</text><text x="483.50" y="755.00" font-size="12.50" text-anchor="middle" >frequency (MHz)</text><text transform="translate(101,400) rotate(-90)" font-size="12.5" text-anchor="middle">UT (hours)</text><text transform="translate(974.5,400.4) rotate(-90)" font-size="12.6" text-anchor="middle">phase (deg.)</text><text x="1013.40" y="603.10" font-size="11.10" text-anchor="end" >−150</text><text x="1013.40" y="536.43" font-size="11.10" text-anchor="end" >−100</text><text x="1013.40" y="469.77" font-size="11.10" text-anchor="end" >−50</text><text x="1014.30" y="403.10" font-size="11.10" text-anchor="end" >0</text><text x="1013.40" y="336.43" font-size="11.10" text-anchor="end" >50</text><text x="1013.40" y="269.77" font-size="11.10" text-anchor="end" >100</text><text x="1013.40" y="203.10" font-size="11.10" text-anchor="end" >150</text><text x="1016.20" y="646.95" font-size="8" fill="#3a3a3a">.</text><text x="1020.10" y="646.95" font-size="8" fill="#3a3a3a">.</text><text x="1023.20" y="646.95" font-size="8" fill="#3a3a3a">.</text><text x="1026.30" y="646.95" font-size="8" fill="#999">.</text><text x="1029.30" y="646.95" font-size="8" fill="#aaa">.</text><text x="1032.60" y="646.95" font-size="8" fill="#aaa">.</text></g>
</svg>
</body></html>
